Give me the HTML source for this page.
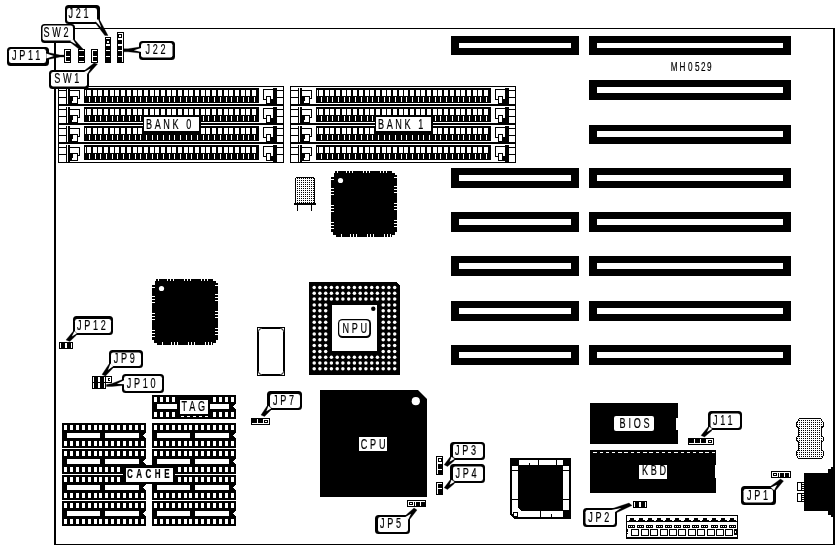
<!DOCTYPE html>
<html><head><meta charset="utf-8"><title>MH0529 motherboard</title>
<style>
html,body{margin:0;padding:0;background:#fff}
svg{display:block;will-change:transform;-webkit-font-smoothing:antialiased}
text{font-family:"Liberation Sans",sans-serif}
</style></head><body>
<svg width="840" height="550" viewBox="0 0 840 550" shape-rendering="crispEdges">
<rect x="0" y="0" width="840" height="550" fill="#fff"/>
<defs><pattern id="dots" x="1" y="0" width="2" height="2" patternUnits="userSpaceOnUse"><rect x="0" y="0" width="2" height="2" fill="#fff"/><rect x="0" y="0" width="1" height="1" fill="#000"/></pattern></defs>
<polygon points="48,52.5 60,55 64,55 64,57 60,57 48,59.5" fill="#000" stroke="#000" stroke-width="0.3" stroke-linejoin="round" shape-rendering="auto"/>
<rect x="7" y="47" width="42" height="19" rx="3.5" ry="3.5" fill="#000" shape-rendering="auto"/>
<rect x="9" y="49" width="37" height="14" rx="2.3" ry="2.3" fill="#fff" shape-rendering="auto"/>
<polygon points="46.32,53.62 46.32,58.38 53.88,56" fill="#fff" shape-rendering="auto"/>
<text transform="translate(12,60) scale(0.65,1)" font-size="14" letter-spacing="4.2" fill="#000" stroke="#000" stroke-width="0.2" font-weight="normal" shape-rendering="auto">JP11</text>
<rect x="54" y="28" width="2" height="517" fill="#000"/>
<rect x="54" y="28" width="781" height="1" fill="#000"/>
<rect x="833" y="28" width="2" height="517" fill="#000"/>
<rect x="54" y="544" width="781" height="1" fill="#000"/>
<rect x="589" y="36" width="202" height="19" fill="#000"/>
<rect x="597" y="43" width="186" height="5" fill="#fff"/>
<rect x="451" y="36" width="128" height="19" fill="#000"/>
<rect x="459" y="43" width="112" height="5" fill="#fff"/>
<rect x="589" y="80" width="202" height="20" fill="#000"/>
<rect x="597" y="87" width="186" height="6" fill="#fff"/>
<rect x="589" y="125" width="202" height="19" fill="#000"/>
<rect x="597" y="131" width="186" height="6" fill="#fff"/>
<rect x="589" y="168" width="202" height="20" fill="#000"/>
<rect x="597" y="175" width="186" height="6" fill="#fff"/>
<rect x="451" y="168" width="128" height="20" fill="#000"/>
<rect x="459" y="175" width="112" height="6" fill="#fff"/>
<rect x="589" y="212" width="202" height="20" fill="#000"/>
<rect x="597" y="219" width="186" height="6" fill="#fff"/>
<rect x="451" y="212" width="128" height="20" fill="#000"/>
<rect x="459" y="219" width="112" height="6" fill="#fff"/>
<rect x="589" y="256" width="202" height="20" fill="#000"/>
<rect x="597" y="263" width="186" height="6" fill="#fff"/>
<rect x="451" y="256" width="128" height="20" fill="#000"/>
<rect x="459" y="263" width="112" height="6" fill="#fff"/>
<rect x="589" y="301" width="202" height="20" fill="#000"/>
<rect x="597" y="308" width="186" height="6" fill="#fff"/>
<rect x="451" y="301" width="128" height="20" fill="#000"/>
<rect x="459" y="308" width="112" height="6" fill="#fff"/>
<rect x="589" y="345" width="202" height="20" fill="#000"/>
<rect x="597" y="352" width="186" height="6" fill="#fff"/>
<rect x="451" y="345" width="128" height="20" fill="#000"/>
<rect x="459" y="352" width="112" height="6" fill="#fff"/>
<rect x="58" y="86" width="226" height="1" fill="#000"/>
<rect x="58" y="162" width="226" height="1" fill="#000"/>
<rect x="58" y="86" width="1" height="77" fill="#000"/>
<rect x="283" y="86" width="1" height="77" fill="#000"/>
<rect x="59" y="90" width="7" height="1" fill="#000"/>
<rect x="59" y="97" width="7" height="1" fill="#000"/>
<rect x="66" y="88" width="1" height="17" fill="#000"/>
<rect x="68" y="88" width="2" height="17" fill="#000"/>
<rect x="70" y="90" width="10" height="1" fill="#000"/>
<rect x="79" y="90" width="1" height="9" fill="#000"/>
<rect x="77" y="98" width="3" height="1" fill="#000"/>
<rect x="72" y="96" width="6" height="1" fill="#000"/>
<rect x="77" y="96" width="1" height="8" fill="#000"/>
<rect x="70" y="96" width="3" height="5" fill="#000"/>
<rect x="70" y="100" width="2" height="4" fill="#000"/>
<rect x="70" y="103" width="8" height="1" fill="#000"/>
<rect x="84" y="88" width="175" height="15" fill="#000"/>
<rect x="87" y="90" width="4" height="6" fill="#fff"/>
<rect x="89" y="97" width="1" height="5" fill="#fff"/>
<rect x="93" y="90" width="4" height="6" fill="#fff"/>
<rect x="95" y="97" width="1" height="5" fill="#fff"/>
<rect x="98" y="90" width="4" height="6" fill="#fff"/>
<rect x="100" y="97" width="1" height="5" fill="#fff"/>
<rect x="104" y="90" width="4" height="6" fill="#fff"/>
<rect x="106" y="97" width="1" height="5" fill="#fff"/>
<rect x="110" y="90" width="4" height="6" fill="#fff"/>
<rect x="112" y="97" width="1" height="5" fill="#fff"/>
<rect x="115" y="90" width="4" height="6" fill="#fff"/>
<rect x="117" y="97" width="1" height="5" fill="#fff"/>
<rect x="121" y="90" width="4" height="6" fill="#fff"/>
<rect x="123" y="97" width="1" height="5" fill="#fff"/>
<rect x="127" y="90" width="4" height="6" fill="#fff"/>
<rect x="129" y="97" width="1" height="5" fill="#fff"/>
<rect x="133" y="90" width="4" height="6" fill="#fff"/>
<rect x="135" y="97" width="1" height="5" fill="#fff"/>
<rect x="138" y="90" width="4" height="6" fill="#fff"/>
<rect x="140" y="97" width="1" height="5" fill="#fff"/>
<rect x="144" y="90" width="4" height="6" fill="#fff"/>
<rect x="146" y="97" width="1" height="5" fill="#fff"/>
<rect x="150" y="90" width="4" height="6" fill="#fff"/>
<rect x="152" y="97" width="1" height="5" fill="#fff"/>
<rect x="155" y="90" width="4" height="6" fill="#fff"/>
<rect x="157" y="97" width="1" height="5" fill="#fff"/>
<rect x="161" y="90" width="4" height="6" fill="#fff"/>
<rect x="163" y="97" width="1" height="5" fill="#fff"/>
<rect x="167" y="90" width="4" height="6" fill="#fff"/>
<rect x="169" y="97" width="1" height="5" fill="#fff"/>
<rect x="172" y="90" width="4" height="6" fill="#fff"/>
<rect x="174" y="97" width="1" height="5" fill="#fff"/>
<rect x="178" y="90" width="4" height="6" fill="#fff"/>
<rect x="180" y="97" width="1" height="5" fill="#fff"/>
<rect x="184" y="90" width="4" height="6" fill="#fff"/>
<rect x="186" y="97" width="1" height="5" fill="#fff"/>
<rect x="189" y="90" width="4" height="6" fill="#fff"/>
<rect x="191" y="97" width="1" height="5" fill="#fff"/>
<rect x="195" y="90" width="4" height="6" fill="#fff"/>
<rect x="197" y="97" width="1" height="5" fill="#fff"/>
<rect x="201" y="90" width="4" height="6" fill="#fff"/>
<rect x="203" y="97" width="1" height="5" fill="#fff"/>
<rect x="206" y="90" width="4" height="6" fill="#fff"/>
<rect x="208" y="97" width="1" height="5" fill="#fff"/>
<rect x="212" y="90" width="4" height="6" fill="#fff"/>
<rect x="214" y="97" width="1" height="5" fill="#fff"/>
<rect x="218" y="90" width="4" height="6" fill="#fff"/>
<rect x="220" y="97" width="1" height="5" fill="#fff"/>
<rect x="224" y="90" width="4" height="6" fill="#fff"/>
<rect x="226" y="97" width="1" height="5" fill="#fff"/>
<rect x="229" y="90" width="4" height="6" fill="#fff"/>
<rect x="231" y="97" width="1" height="5" fill="#fff"/>
<rect x="235" y="90" width="4" height="6" fill="#fff"/>
<rect x="237" y="97" width="1" height="5" fill="#fff"/>
<rect x="241" y="90" width="4" height="6" fill="#fff"/>
<rect x="243" y="97" width="1" height="5" fill="#fff"/>
<rect x="246" y="90" width="4" height="6" fill="#fff"/>
<rect x="248" y="97" width="1" height="5" fill="#fff"/>
<rect x="252" y="90" width="4" height="6" fill="#fff"/>
<rect x="254" y="97" width="1" height="5" fill="#fff"/>
<rect x="85" y="90" width="1" height="6" fill="#fff"/>
<rect x="263" y="89" width="10" height="1" fill="#000"/>
<rect x="263" y="89" width="1" height="11" fill="#000"/>
<rect x="263" y="99" width="4" height="1" fill="#000"/>
<rect x="266" y="96" width="1" height="8" fill="#000"/>
<rect x="266" y="96" width="5" height="1" fill="#000"/>
<rect x="270" y="96" width="1" height="4" fill="#000"/>
<rect x="270" y="99" width="3" height="5" fill="#000"/>
<rect x="266" y="103" width="7" height="1" fill="#000"/>
<rect x="273" y="88" width="4" height="17" fill="#000"/>
<rect x="277" y="90" width="6" height="1" fill="#000"/>
<rect x="277" y="97" width="6" height="1" fill="#000"/>
<rect x="58" y="104" width="226" height="2" fill="#000"/>
<rect x="59" y="109" width="7" height="1" fill="#000"/>
<rect x="59" y="116" width="7" height="1" fill="#000"/>
<rect x="66" y="107" width="1" height="17" fill="#000"/>
<rect x="68" y="107" width="2" height="17" fill="#000"/>
<rect x="70" y="109" width="10" height="1" fill="#000"/>
<rect x="79" y="109" width="1" height="9" fill="#000"/>
<rect x="77" y="117" width="3" height="1" fill="#000"/>
<rect x="72" y="115" width="6" height="1" fill="#000"/>
<rect x="77" y="115" width="1" height="8" fill="#000"/>
<rect x="70" y="115" width="3" height="5" fill="#000"/>
<rect x="70" y="119" width="2" height="4" fill="#000"/>
<rect x="70" y="122" width="8" height="1" fill="#000"/>
<rect x="84" y="107" width="175" height="15" fill="#000"/>
<rect x="87" y="109" width="4" height="6" fill="#fff"/>
<rect x="89" y="116" width="1" height="5" fill="#fff"/>
<rect x="93" y="109" width="4" height="6" fill="#fff"/>
<rect x="95" y="116" width="1" height="5" fill="#fff"/>
<rect x="98" y="109" width="4" height="6" fill="#fff"/>
<rect x="100" y="116" width="1" height="5" fill="#fff"/>
<rect x="104" y="109" width="4" height="6" fill="#fff"/>
<rect x="106" y="116" width="1" height="5" fill="#fff"/>
<rect x="110" y="109" width="4" height="6" fill="#fff"/>
<rect x="112" y="116" width="1" height="5" fill="#fff"/>
<rect x="115" y="109" width="4" height="6" fill="#fff"/>
<rect x="117" y="116" width="1" height="5" fill="#fff"/>
<rect x="121" y="109" width="4" height="6" fill="#fff"/>
<rect x="123" y="116" width="1" height="5" fill="#fff"/>
<rect x="127" y="109" width="4" height="6" fill="#fff"/>
<rect x="129" y="116" width="1" height="5" fill="#fff"/>
<rect x="133" y="109" width="4" height="6" fill="#fff"/>
<rect x="135" y="116" width="1" height="5" fill="#fff"/>
<rect x="138" y="109" width="4" height="6" fill="#fff"/>
<rect x="140" y="116" width="1" height="5" fill="#fff"/>
<rect x="144" y="109" width="4" height="6" fill="#fff"/>
<rect x="146" y="116" width="1" height="5" fill="#fff"/>
<rect x="150" y="109" width="4" height="6" fill="#fff"/>
<rect x="152" y="116" width="1" height="5" fill="#fff"/>
<rect x="155" y="109" width="4" height="6" fill="#fff"/>
<rect x="157" y="116" width="1" height="5" fill="#fff"/>
<rect x="161" y="109" width="4" height="6" fill="#fff"/>
<rect x="163" y="116" width="1" height="5" fill="#fff"/>
<rect x="167" y="109" width="4" height="6" fill="#fff"/>
<rect x="169" y="116" width="1" height="5" fill="#fff"/>
<rect x="172" y="109" width="4" height="6" fill="#fff"/>
<rect x="174" y="116" width="1" height="5" fill="#fff"/>
<rect x="178" y="109" width="4" height="6" fill="#fff"/>
<rect x="180" y="116" width="1" height="5" fill="#fff"/>
<rect x="184" y="109" width="4" height="6" fill="#fff"/>
<rect x="186" y="116" width="1" height="5" fill="#fff"/>
<rect x="189" y="109" width="4" height="6" fill="#fff"/>
<rect x="191" y="116" width="1" height="5" fill="#fff"/>
<rect x="195" y="109" width="4" height="6" fill="#fff"/>
<rect x="197" y="116" width="1" height="5" fill="#fff"/>
<rect x="201" y="109" width="4" height="6" fill="#fff"/>
<rect x="203" y="116" width="1" height="5" fill="#fff"/>
<rect x="206" y="109" width="4" height="6" fill="#fff"/>
<rect x="208" y="116" width="1" height="5" fill="#fff"/>
<rect x="212" y="109" width="4" height="6" fill="#fff"/>
<rect x="214" y="116" width="1" height="5" fill="#fff"/>
<rect x="218" y="109" width="4" height="6" fill="#fff"/>
<rect x="220" y="116" width="1" height="5" fill="#fff"/>
<rect x="224" y="109" width="4" height="6" fill="#fff"/>
<rect x="226" y="116" width="1" height="5" fill="#fff"/>
<rect x="229" y="109" width="4" height="6" fill="#fff"/>
<rect x="231" y="116" width="1" height="5" fill="#fff"/>
<rect x="235" y="109" width="4" height="6" fill="#fff"/>
<rect x="237" y="116" width="1" height="5" fill="#fff"/>
<rect x="241" y="109" width="4" height="6" fill="#fff"/>
<rect x="243" y="116" width="1" height="5" fill="#fff"/>
<rect x="246" y="109" width="4" height="6" fill="#fff"/>
<rect x="248" y="116" width="1" height="5" fill="#fff"/>
<rect x="252" y="109" width="4" height="6" fill="#fff"/>
<rect x="254" y="116" width="1" height="5" fill="#fff"/>
<rect x="85" y="109" width="1" height="6" fill="#fff"/>
<rect x="263" y="108" width="10" height="1" fill="#000"/>
<rect x="263" y="108" width="1" height="11" fill="#000"/>
<rect x="263" y="118" width="4" height="1" fill="#000"/>
<rect x="266" y="115" width="1" height="8" fill="#000"/>
<rect x="266" y="115" width="5" height="1" fill="#000"/>
<rect x="270" y="115" width="1" height="4" fill="#000"/>
<rect x="270" y="118" width="3" height="5" fill="#000"/>
<rect x="266" y="122" width="7" height="1" fill="#000"/>
<rect x="273" y="107" width="4" height="17" fill="#000"/>
<rect x="277" y="109" width="6" height="1" fill="#000"/>
<rect x="277" y="116" width="6" height="1" fill="#000"/>
<rect x="58" y="123" width="226" height="2" fill="#000"/>
<rect x="59" y="128" width="7" height="1" fill="#000"/>
<rect x="59" y="135" width="7" height="1" fill="#000"/>
<rect x="66" y="126" width="1" height="17" fill="#000"/>
<rect x="68" y="126" width="2" height="17" fill="#000"/>
<rect x="70" y="128" width="10" height="1" fill="#000"/>
<rect x="79" y="128" width="1" height="9" fill="#000"/>
<rect x="77" y="136" width="3" height="1" fill="#000"/>
<rect x="72" y="134" width="6" height="1" fill="#000"/>
<rect x="77" y="134" width="1" height="8" fill="#000"/>
<rect x="70" y="134" width="3" height="5" fill="#000"/>
<rect x="70" y="138" width="2" height="4" fill="#000"/>
<rect x="70" y="141" width="8" height="1" fill="#000"/>
<rect x="84" y="126" width="175" height="15" fill="#000"/>
<rect x="87" y="128" width="4" height="6" fill="#fff"/>
<rect x="89" y="135" width="1" height="5" fill="#fff"/>
<rect x="93" y="128" width="4" height="6" fill="#fff"/>
<rect x="95" y="135" width="1" height="5" fill="#fff"/>
<rect x="98" y="128" width="4" height="6" fill="#fff"/>
<rect x="100" y="135" width="1" height="5" fill="#fff"/>
<rect x="104" y="128" width="4" height="6" fill="#fff"/>
<rect x="106" y="135" width="1" height="5" fill="#fff"/>
<rect x="110" y="128" width="4" height="6" fill="#fff"/>
<rect x="112" y="135" width="1" height="5" fill="#fff"/>
<rect x="115" y="128" width="4" height="6" fill="#fff"/>
<rect x="117" y="135" width="1" height="5" fill="#fff"/>
<rect x="121" y="128" width="4" height="6" fill="#fff"/>
<rect x="123" y="135" width="1" height="5" fill="#fff"/>
<rect x="127" y="128" width="4" height="6" fill="#fff"/>
<rect x="129" y="135" width="1" height="5" fill="#fff"/>
<rect x="133" y="128" width="4" height="6" fill="#fff"/>
<rect x="135" y="135" width="1" height="5" fill="#fff"/>
<rect x="138" y="128" width="4" height="6" fill="#fff"/>
<rect x="140" y="135" width="1" height="5" fill="#fff"/>
<rect x="144" y="128" width="4" height="6" fill="#fff"/>
<rect x="146" y="135" width="1" height="5" fill="#fff"/>
<rect x="150" y="128" width="4" height="6" fill="#fff"/>
<rect x="152" y="135" width="1" height="5" fill="#fff"/>
<rect x="155" y="128" width="4" height="6" fill="#fff"/>
<rect x="157" y="135" width="1" height="5" fill="#fff"/>
<rect x="161" y="128" width="4" height="6" fill="#fff"/>
<rect x="163" y="135" width="1" height="5" fill="#fff"/>
<rect x="167" y="128" width="4" height="6" fill="#fff"/>
<rect x="169" y="135" width="1" height="5" fill="#fff"/>
<rect x="172" y="128" width="4" height="6" fill="#fff"/>
<rect x="174" y="135" width="1" height="5" fill="#fff"/>
<rect x="178" y="128" width="4" height="6" fill="#fff"/>
<rect x="180" y="135" width="1" height="5" fill="#fff"/>
<rect x="184" y="128" width="4" height="6" fill="#fff"/>
<rect x="186" y="135" width="1" height="5" fill="#fff"/>
<rect x="189" y="128" width="4" height="6" fill="#fff"/>
<rect x="191" y="135" width="1" height="5" fill="#fff"/>
<rect x="195" y="128" width="4" height="6" fill="#fff"/>
<rect x="197" y="135" width="1" height="5" fill="#fff"/>
<rect x="201" y="128" width="4" height="6" fill="#fff"/>
<rect x="203" y="135" width="1" height="5" fill="#fff"/>
<rect x="206" y="128" width="4" height="6" fill="#fff"/>
<rect x="208" y="135" width="1" height="5" fill="#fff"/>
<rect x="212" y="128" width="4" height="6" fill="#fff"/>
<rect x="214" y="135" width="1" height="5" fill="#fff"/>
<rect x="218" y="128" width="4" height="6" fill="#fff"/>
<rect x="220" y="135" width="1" height="5" fill="#fff"/>
<rect x="224" y="128" width="4" height="6" fill="#fff"/>
<rect x="226" y="135" width="1" height="5" fill="#fff"/>
<rect x="229" y="128" width="4" height="6" fill="#fff"/>
<rect x="231" y="135" width="1" height="5" fill="#fff"/>
<rect x="235" y="128" width="4" height="6" fill="#fff"/>
<rect x="237" y="135" width="1" height="5" fill="#fff"/>
<rect x="241" y="128" width="4" height="6" fill="#fff"/>
<rect x="243" y="135" width="1" height="5" fill="#fff"/>
<rect x="246" y="128" width="4" height="6" fill="#fff"/>
<rect x="248" y="135" width="1" height="5" fill="#fff"/>
<rect x="252" y="128" width="4" height="6" fill="#fff"/>
<rect x="254" y="135" width="1" height="5" fill="#fff"/>
<rect x="85" y="128" width="1" height="6" fill="#fff"/>
<rect x="263" y="127" width="10" height="1" fill="#000"/>
<rect x="263" y="127" width="1" height="11" fill="#000"/>
<rect x="263" y="137" width="4" height="1" fill="#000"/>
<rect x="266" y="134" width="1" height="8" fill="#000"/>
<rect x="266" y="134" width="5" height="1" fill="#000"/>
<rect x="270" y="134" width="1" height="4" fill="#000"/>
<rect x="270" y="137" width="3" height="5" fill="#000"/>
<rect x="266" y="141" width="7" height="1" fill="#000"/>
<rect x="273" y="126" width="4" height="17" fill="#000"/>
<rect x="277" y="128" width="6" height="1" fill="#000"/>
<rect x="277" y="135" width="6" height="1" fill="#000"/>
<rect x="58" y="142" width="226" height="2" fill="#000"/>
<rect x="59" y="147" width="7" height="1" fill="#000"/>
<rect x="59" y="154" width="7" height="1" fill="#000"/>
<rect x="66" y="145" width="1" height="17" fill="#000"/>
<rect x="68" y="145" width="2" height="17" fill="#000"/>
<rect x="70" y="147" width="10" height="1" fill="#000"/>
<rect x="79" y="147" width="1" height="9" fill="#000"/>
<rect x="77" y="155" width="3" height="1" fill="#000"/>
<rect x="72" y="153" width="6" height="1" fill="#000"/>
<rect x="77" y="153" width="1" height="8" fill="#000"/>
<rect x="70" y="153" width="3" height="5" fill="#000"/>
<rect x="70" y="157" width="2" height="4" fill="#000"/>
<rect x="70" y="160" width="8" height="1" fill="#000"/>
<rect x="84" y="145" width="175" height="15" fill="#000"/>
<rect x="87" y="147" width="4" height="6" fill="#fff"/>
<rect x="89" y="154" width="1" height="5" fill="#fff"/>
<rect x="93" y="147" width="4" height="6" fill="#fff"/>
<rect x="95" y="154" width="1" height="5" fill="#fff"/>
<rect x="98" y="147" width="4" height="6" fill="#fff"/>
<rect x="100" y="154" width="1" height="5" fill="#fff"/>
<rect x="104" y="147" width="4" height="6" fill="#fff"/>
<rect x="106" y="154" width="1" height="5" fill="#fff"/>
<rect x="110" y="147" width="4" height="6" fill="#fff"/>
<rect x="112" y="154" width="1" height="5" fill="#fff"/>
<rect x="115" y="147" width="4" height="6" fill="#fff"/>
<rect x="117" y="154" width="1" height="5" fill="#fff"/>
<rect x="121" y="147" width="4" height="6" fill="#fff"/>
<rect x="123" y="154" width="1" height="5" fill="#fff"/>
<rect x="127" y="147" width="4" height="6" fill="#fff"/>
<rect x="129" y="154" width="1" height="5" fill="#fff"/>
<rect x="133" y="147" width="4" height="6" fill="#fff"/>
<rect x="135" y="154" width="1" height="5" fill="#fff"/>
<rect x="138" y="147" width="4" height="6" fill="#fff"/>
<rect x="140" y="154" width="1" height="5" fill="#fff"/>
<rect x="144" y="147" width="4" height="6" fill="#fff"/>
<rect x="146" y="154" width="1" height="5" fill="#fff"/>
<rect x="150" y="147" width="4" height="6" fill="#fff"/>
<rect x="152" y="154" width="1" height="5" fill="#fff"/>
<rect x="155" y="147" width="4" height="6" fill="#fff"/>
<rect x="157" y="154" width="1" height="5" fill="#fff"/>
<rect x="161" y="147" width="4" height="6" fill="#fff"/>
<rect x="163" y="154" width="1" height="5" fill="#fff"/>
<rect x="167" y="147" width="4" height="6" fill="#fff"/>
<rect x="169" y="154" width="1" height="5" fill="#fff"/>
<rect x="172" y="147" width="4" height="6" fill="#fff"/>
<rect x="174" y="154" width="1" height="5" fill="#fff"/>
<rect x="178" y="147" width="4" height="6" fill="#fff"/>
<rect x="180" y="154" width="1" height="5" fill="#fff"/>
<rect x="184" y="147" width="4" height="6" fill="#fff"/>
<rect x="186" y="154" width="1" height="5" fill="#fff"/>
<rect x="189" y="147" width="4" height="6" fill="#fff"/>
<rect x="191" y="154" width="1" height="5" fill="#fff"/>
<rect x="195" y="147" width="4" height="6" fill="#fff"/>
<rect x="197" y="154" width="1" height="5" fill="#fff"/>
<rect x="201" y="147" width="4" height="6" fill="#fff"/>
<rect x="203" y="154" width="1" height="5" fill="#fff"/>
<rect x="206" y="147" width="4" height="6" fill="#fff"/>
<rect x="208" y="154" width="1" height="5" fill="#fff"/>
<rect x="212" y="147" width="4" height="6" fill="#fff"/>
<rect x="214" y="154" width="1" height="5" fill="#fff"/>
<rect x="218" y="147" width="4" height="6" fill="#fff"/>
<rect x="220" y="154" width="1" height="5" fill="#fff"/>
<rect x="224" y="147" width="4" height="6" fill="#fff"/>
<rect x="226" y="154" width="1" height="5" fill="#fff"/>
<rect x="229" y="147" width="4" height="6" fill="#fff"/>
<rect x="231" y="154" width="1" height="5" fill="#fff"/>
<rect x="235" y="147" width="4" height="6" fill="#fff"/>
<rect x="237" y="154" width="1" height="5" fill="#fff"/>
<rect x="241" y="147" width="4" height="6" fill="#fff"/>
<rect x="243" y="154" width="1" height="5" fill="#fff"/>
<rect x="246" y="147" width="4" height="6" fill="#fff"/>
<rect x="248" y="154" width="1" height="5" fill="#fff"/>
<rect x="252" y="147" width="4" height="6" fill="#fff"/>
<rect x="254" y="154" width="1" height="5" fill="#fff"/>
<rect x="85" y="147" width="1" height="6" fill="#fff"/>
<rect x="263" y="146" width="10" height="1" fill="#000"/>
<rect x="263" y="146" width="1" height="11" fill="#000"/>
<rect x="263" y="156" width="4" height="1" fill="#000"/>
<rect x="266" y="153" width="1" height="8" fill="#000"/>
<rect x="266" y="153" width="5" height="1" fill="#000"/>
<rect x="270" y="153" width="1" height="4" fill="#000"/>
<rect x="270" y="156" width="3" height="5" fill="#000"/>
<rect x="266" y="160" width="7" height="1" fill="#000"/>
<rect x="273" y="145" width="4" height="17" fill="#000"/>
<rect x="277" y="147" width="6" height="1" fill="#000"/>
<rect x="277" y="154" width="6" height="1" fill="#000"/>
<rect x="290" y="86" width="226" height="1" fill="#000"/>
<rect x="290" y="162" width="226" height="1" fill="#000"/>
<rect x="290" y="86" width="1" height="77" fill="#000"/>
<rect x="515" y="86" width="1" height="77" fill="#000"/>
<rect x="291" y="90" width="7" height="1" fill="#000"/>
<rect x="291" y="97" width="7" height="1" fill="#000"/>
<rect x="298" y="88" width="1" height="17" fill="#000"/>
<rect x="300" y="88" width="2" height="17" fill="#000"/>
<rect x="302" y="90" width="10" height="1" fill="#000"/>
<rect x="311" y="90" width="1" height="9" fill="#000"/>
<rect x="309" y="98" width="3" height="1" fill="#000"/>
<rect x="304" y="96" width="6" height="1" fill="#000"/>
<rect x="309" y="96" width="1" height="8" fill="#000"/>
<rect x="302" y="96" width="3" height="5" fill="#000"/>
<rect x="302" y="100" width="2" height="4" fill="#000"/>
<rect x="302" y="103" width="8" height="1" fill="#000"/>
<rect x="316" y="88" width="175" height="15" fill="#000"/>
<rect x="319" y="90" width="4" height="6" fill="#fff"/>
<rect x="321" y="97" width="1" height="5" fill="#fff"/>
<rect x="325" y="90" width="4" height="6" fill="#fff"/>
<rect x="327" y="97" width="1" height="5" fill="#fff"/>
<rect x="330" y="90" width="4" height="6" fill="#fff"/>
<rect x="332" y="97" width="1" height="5" fill="#fff"/>
<rect x="336" y="90" width="4" height="6" fill="#fff"/>
<rect x="338" y="97" width="1" height="5" fill="#fff"/>
<rect x="342" y="90" width="4" height="6" fill="#fff"/>
<rect x="344" y="97" width="1" height="5" fill="#fff"/>
<rect x="347" y="90" width="4" height="6" fill="#fff"/>
<rect x="349" y="97" width="1" height="5" fill="#fff"/>
<rect x="353" y="90" width="4" height="6" fill="#fff"/>
<rect x="355" y="97" width="1" height="5" fill="#fff"/>
<rect x="359" y="90" width="4" height="6" fill="#fff"/>
<rect x="361" y="97" width="1" height="5" fill="#fff"/>
<rect x="365" y="90" width="4" height="6" fill="#fff"/>
<rect x="367" y="97" width="1" height="5" fill="#fff"/>
<rect x="370" y="90" width="4" height="6" fill="#fff"/>
<rect x="372" y="97" width="1" height="5" fill="#fff"/>
<rect x="376" y="90" width="4" height="6" fill="#fff"/>
<rect x="378" y="97" width="1" height="5" fill="#fff"/>
<rect x="382" y="90" width="4" height="6" fill="#fff"/>
<rect x="384" y="97" width="1" height="5" fill="#fff"/>
<rect x="387" y="90" width="4" height="6" fill="#fff"/>
<rect x="389" y="97" width="1" height="5" fill="#fff"/>
<rect x="393" y="90" width="4" height="6" fill="#fff"/>
<rect x="395" y="97" width="1" height="5" fill="#fff"/>
<rect x="399" y="90" width="4" height="6" fill="#fff"/>
<rect x="401" y="97" width="1" height="5" fill="#fff"/>
<rect x="404" y="90" width="4" height="6" fill="#fff"/>
<rect x="406" y="97" width="1" height="5" fill="#fff"/>
<rect x="410" y="90" width="4" height="6" fill="#fff"/>
<rect x="412" y="97" width="1" height="5" fill="#fff"/>
<rect x="416" y="90" width="4" height="6" fill="#fff"/>
<rect x="418" y="97" width="1" height="5" fill="#fff"/>
<rect x="421" y="90" width="4" height="6" fill="#fff"/>
<rect x="423" y="97" width="1" height="5" fill="#fff"/>
<rect x="427" y="90" width="4" height="6" fill="#fff"/>
<rect x="429" y="97" width="1" height="5" fill="#fff"/>
<rect x="433" y="90" width="4" height="6" fill="#fff"/>
<rect x="435" y="97" width="1" height="5" fill="#fff"/>
<rect x="438" y="90" width="4" height="6" fill="#fff"/>
<rect x="440" y="97" width="1" height="5" fill="#fff"/>
<rect x="444" y="90" width="4" height="6" fill="#fff"/>
<rect x="446" y="97" width="1" height="5" fill="#fff"/>
<rect x="450" y="90" width="4" height="6" fill="#fff"/>
<rect x="452" y="97" width="1" height="5" fill="#fff"/>
<rect x="456" y="90" width="4" height="6" fill="#fff"/>
<rect x="458" y="97" width="1" height="5" fill="#fff"/>
<rect x="461" y="90" width="4" height="6" fill="#fff"/>
<rect x="463" y="97" width="1" height="5" fill="#fff"/>
<rect x="467" y="90" width="4" height="6" fill="#fff"/>
<rect x="469" y="97" width="1" height="5" fill="#fff"/>
<rect x="473" y="90" width="4" height="6" fill="#fff"/>
<rect x="475" y="97" width="1" height="5" fill="#fff"/>
<rect x="478" y="90" width="4" height="6" fill="#fff"/>
<rect x="480" y="97" width="1" height="5" fill="#fff"/>
<rect x="484" y="90" width="4" height="6" fill="#fff"/>
<rect x="486" y="97" width="1" height="5" fill="#fff"/>
<rect x="317" y="90" width="1" height="6" fill="#fff"/>
<rect x="495" y="89" width="10" height="1" fill="#000"/>
<rect x="495" y="89" width="1" height="11" fill="#000"/>
<rect x="495" y="99" width="4" height="1" fill="#000"/>
<rect x="498" y="96" width="1" height="8" fill="#000"/>
<rect x="498" y="96" width="5" height="1" fill="#000"/>
<rect x="502" y="96" width="1" height="4" fill="#000"/>
<rect x="502" y="99" width="3" height="5" fill="#000"/>
<rect x="498" y="103" width="7" height="1" fill="#000"/>
<rect x="505" y="88" width="4" height="17" fill="#000"/>
<rect x="509" y="90" width="6" height="1" fill="#000"/>
<rect x="509" y="97" width="6" height="1" fill="#000"/>
<rect x="290" y="104" width="226" height="2" fill="#000"/>
<rect x="291" y="109" width="7" height="1" fill="#000"/>
<rect x="291" y="116" width="7" height="1" fill="#000"/>
<rect x="298" y="107" width="1" height="17" fill="#000"/>
<rect x="300" y="107" width="2" height="17" fill="#000"/>
<rect x="302" y="109" width="10" height="1" fill="#000"/>
<rect x="311" y="109" width="1" height="9" fill="#000"/>
<rect x="309" y="117" width="3" height="1" fill="#000"/>
<rect x="304" y="115" width="6" height="1" fill="#000"/>
<rect x="309" y="115" width="1" height="8" fill="#000"/>
<rect x="302" y="115" width="3" height="5" fill="#000"/>
<rect x="302" y="119" width="2" height="4" fill="#000"/>
<rect x="302" y="122" width="8" height="1" fill="#000"/>
<rect x="316" y="107" width="175" height="15" fill="#000"/>
<rect x="319" y="109" width="4" height="6" fill="#fff"/>
<rect x="321" y="116" width="1" height="5" fill="#fff"/>
<rect x="325" y="109" width="4" height="6" fill="#fff"/>
<rect x="327" y="116" width="1" height="5" fill="#fff"/>
<rect x="330" y="109" width="4" height="6" fill="#fff"/>
<rect x="332" y="116" width="1" height="5" fill="#fff"/>
<rect x="336" y="109" width="4" height="6" fill="#fff"/>
<rect x="338" y="116" width="1" height="5" fill="#fff"/>
<rect x="342" y="109" width="4" height="6" fill="#fff"/>
<rect x="344" y="116" width="1" height="5" fill="#fff"/>
<rect x="347" y="109" width="4" height="6" fill="#fff"/>
<rect x="349" y="116" width="1" height="5" fill="#fff"/>
<rect x="353" y="109" width="4" height="6" fill="#fff"/>
<rect x="355" y="116" width="1" height="5" fill="#fff"/>
<rect x="359" y="109" width="4" height="6" fill="#fff"/>
<rect x="361" y="116" width="1" height="5" fill="#fff"/>
<rect x="365" y="109" width="4" height="6" fill="#fff"/>
<rect x="367" y="116" width="1" height="5" fill="#fff"/>
<rect x="370" y="109" width="4" height="6" fill="#fff"/>
<rect x="372" y="116" width="1" height="5" fill="#fff"/>
<rect x="376" y="109" width="4" height="6" fill="#fff"/>
<rect x="378" y="116" width="1" height="5" fill="#fff"/>
<rect x="382" y="109" width="4" height="6" fill="#fff"/>
<rect x="384" y="116" width="1" height="5" fill="#fff"/>
<rect x="387" y="109" width="4" height="6" fill="#fff"/>
<rect x="389" y="116" width="1" height="5" fill="#fff"/>
<rect x="393" y="109" width="4" height="6" fill="#fff"/>
<rect x="395" y="116" width="1" height="5" fill="#fff"/>
<rect x="399" y="109" width="4" height="6" fill="#fff"/>
<rect x="401" y="116" width="1" height="5" fill="#fff"/>
<rect x="404" y="109" width="4" height="6" fill="#fff"/>
<rect x="406" y="116" width="1" height="5" fill="#fff"/>
<rect x="410" y="109" width="4" height="6" fill="#fff"/>
<rect x="412" y="116" width="1" height="5" fill="#fff"/>
<rect x="416" y="109" width="4" height="6" fill="#fff"/>
<rect x="418" y="116" width="1" height="5" fill="#fff"/>
<rect x="421" y="109" width="4" height="6" fill="#fff"/>
<rect x="423" y="116" width="1" height="5" fill="#fff"/>
<rect x="427" y="109" width="4" height="6" fill="#fff"/>
<rect x="429" y="116" width="1" height="5" fill="#fff"/>
<rect x="433" y="109" width="4" height="6" fill="#fff"/>
<rect x="435" y="116" width="1" height="5" fill="#fff"/>
<rect x="438" y="109" width="4" height="6" fill="#fff"/>
<rect x="440" y="116" width="1" height="5" fill="#fff"/>
<rect x="444" y="109" width="4" height="6" fill="#fff"/>
<rect x="446" y="116" width="1" height="5" fill="#fff"/>
<rect x="450" y="109" width="4" height="6" fill="#fff"/>
<rect x="452" y="116" width="1" height="5" fill="#fff"/>
<rect x="456" y="109" width="4" height="6" fill="#fff"/>
<rect x="458" y="116" width="1" height="5" fill="#fff"/>
<rect x="461" y="109" width="4" height="6" fill="#fff"/>
<rect x="463" y="116" width="1" height="5" fill="#fff"/>
<rect x="467" y="109" width="4" height="6" fill="#fff"/>
<rect x="469" y="116" width="1" height="5" fill="#fff"/>
<rect x="473" y="109" width="4" height="6" fill="#fff"/>
<rect x="475" y="116" width="1" height="5" fill="#fff"/>
<rect x="478" y="109" width="4" height="6" fill="#fff"/>
<rect x="480" y="116" width="1" height="5" fill="#fff"/>
<rect x="484" y="109" width="4" height="6" fill="#fff"/>
<rect x="486" y="116" width="1" height="5" fill="#fff"/>
<rect x="317" y="109" width="1" height="6" fill="#fff"/>
<rect x="495" y="108" width="10" height="1" fill="#000"/>
<rect x="495" y="108" width="1" height="11" fill="#000"/>
<rect x="495" y="118" width="4" height="1" fill="#000"/>
<rect x="498" y="115" width="1" height="8" fill="#000"/>
<rect x="498" y="115" width="5" height="1" fill="#000"/>
<rect x="502" y="115" width="1" height="4" fill="#000"/>
<rect x="502" y="118" width="3" height="5" fill="#000"/>
<rect x="498" y="122" width="7" height="1" fill="#000"/>
<rect x="505" y="107" width="4" height="17" fill="#000"/>
<rect x="509" y="109" width="6" height="1" fill="#000"/>
<rect x="509" y="116" width="6" height="1" fill="#000"/>
<rect x="290" y="123" width="226" height="2" fill="#000"/>
<rect x="291" y="128" width="7" height="1" fill="#000"/>
<rect x="291" y="135" width="7" height="1" fill="#000"/>
<rect x="298" y="126" width="1" height="17" fill="#000"/>
<rect x="300" y="126" width="2" height="17" fill="#000"/>
<rect x="302" y="128" width="10" height="1" fill="#000"/>
<rect x="311" y="128" width="1" height="9" fill="#000"/>
<rect x="309" y="136" width="3" height="1" fill="#000"/>
<rect x="304" y="134" width="6" height="1" fill="#000"/>
<rect x="309" y="134" width="1" height="8" fill="#000"/>
<rect x="302" y="134" width="3" height="5" fill="#000"/>
<rect x="302" y="138" width="2" height="4" fill="#000"/>
<rect x="302" y="141" width="8" height="1" fill="#000"/>
<rect x="316" y="126" width="175" height="15" fill="#000"/>
<rect x="319" y="128" width="4" height="6" fill="#fff"/>
<rect x="321" y="135" width="1" height="5" fill="#fff"/>
<rect x="325" y="128" width="4" height="6" fill="#fff"/>
<rect x="327" y="135" width="1" height="5" fill="#fff"/>
<rect x="330" y="128" width="4" height="6" fill="#fff"/>
<rect x="332" y="135" width="1" height="5" fill="#fff"/>
<rect x="336" y="128" width="4" height="6" fill="#fff"/>
<rect x="338" y="135" width="1" height="5" fill="#fff"/>
<rect x="342" y="128" width="4" height="6" fill="#fff"/>
<rect x="344" y="135" width="1" height="5" fill="#fff"/>
<rect x="347" y="128" width="4" height="6" fill="#fff"/>
<rect x="349" y="135" width="1" height="5" fill="#fff"/>
<rect x="353" y="128" width="4" height="6" fill="#fff"/>
<rect x="355" y="135" width="1" height="5" fill="#fff"/>
<rect x="359" y="128" width="4" height="6" fill="#fff"/>
<rect x="361" y="135" width="1" height="5" fill="#fff"/>
<rect x="365" y="128" width="4" height="6" fill="#fff"/>
<rect x="367" y="135" width="1" height="5" fill="#fff"/>
<rect x="370" y="128" width="4" height="6" fill="#fff"/>
<rect x="372" y="135" width="1" height="5" fill="#fff"/>
<rect x="376" y="128" width="4" height="6" fill="#fff"/>
<rect x="378" y="135" width="1" height="5" fill="#fff"/>
<rect x="382" y="128" width="4" height="6" fill="#fff"/>
<rect x="384" y="135" width="1" height="5" fill="#fff"/>
<rect x="387" y="128" width="4" height="6" fill="#fff"/>
<rect x="389" y="135" width="1" height="5" fill="#fff"/>
<rect x="393" y="128" width="4" height="6" fill="#fff"/>
<rect x="395" y="135" width="1" height="5" fill="#fff"/>
<rect x="399" y="128" width="4" height="6" fill="#fff"/>
<rect x="401" y="135" width="1" height="5" fill="#fff"/>
<rect x="404" y="128" width="4" height="6" fill="#fff"/>
<rect x="406" y="135" width="1" height="5" fill="#fff"/>
<rect x="410" y="128" width="4" height="6" fill="#fff"/>
<rect x="412" y="135" width="1" height="5" fill="#fff"/>
<rect x="416" y="128" width="4" height="6" fill="#fff"/>
<rect x="418" y="135" width="1" height="5" fill="#fff"/>
<rect x="421" y="128" width="4" height="6" fill="#fff"/>
<rect x="423" y="135" width="1" height="5" fill="#fff"/>
<rect x="427" y="128" width="4" height="6" fill="#fff"/>
<rect x="429" y="135" width="1" height="5" fill="#fff"/>
<rect x="433" y="128" width="4" height="6" fill="#fff"/>
<rect x="435" y="135" width="1" height="5" fill="#fff"/>
<rect x="438" y="128" width="4" height="6" fill="#fff"/>
<rect x="440" y="135" width="1" height="5" fill="#fff"/>
<rect x="444" y="128" width="4" height="6" fill="#fff"/>
<rect x="446" y="135" width="1" height="5" fill="#fff"/>
<rect x="450" y="128" width="4" height="6" fill="#fff"/>
<rect x="452" y="135" width="1" height="5" fill="#fff"/>
<rect x="456" y="128" width="4" height="6" fill="#fff"/>
<rect x="458" y="135" width="1" height="5" fill="#fff"/>
<rect x="461" y="128" width="4" height="6" fill="#fff"/>
<rect x="463" y="135" width="1" height="5" fill="#fff"/>
<rect x="467" y="128" width="4" height="6" fill="#fff"/>
<rect x="469" y="135" width="1" height="5" fill="#fff"/>
<rect x="473" y="128" width="4" height="6" fill="#fff"/>
<rect x="475" y="135" width="1" height="5" fill="#fff"/>
<rect x="478" y="128" width="4" height="6" fill="#fff"/>
<rect x="480" y="135" width="1" height="5" fill="#fff"/>
<rect x="484" y="128" width="4" height="6" fill="#fff"/>
<rect x="486" y="135" width="1" height="5" fill="#fff"/>
<rect x="317" y="128" width="1" height="6" fill="#fff"/>
<rect x="495" y="127" width="10" height="1" fill="#000"/>
<rect x="495" y="127" width="1" height="11" fill="#000"/>
<rect x="495" y="137" width="4" height="1" fill="#000"/>
<rect x="498" y="134" width="1" height="8" fill="#000"/>
<rect x="498" y="134" width="5" height="1" fill="#000"/>
<rect x="502" y="134" width="1" height="4" fill="#000"/>
<rect x="502" y="137" width="3" height="5" fill="#000"/>
<rect x="498" y="141" width="7" height="1" fill="#000"/>
<rect x="505" y="126" width="4" height="17" fill="#000"/>
<rect x="509" y="128" width="6" height="1" fill="#000"/>
<rect x="509" y="135" width="6" height="1" fill="#000"/>
<rect x="290" y="142" width="226" height="2" fill="#000"/>
<rect x="291" y="147" width="7" height="1" fill="#000"/>
<rect x="291" y="154" width="7" height="1" fill="#000"/>
<rect x="298" y="145" width="1" height="17" fill="#000"/>
<rect x="300" y="145" width="2" height="17" fill="#000"/>
<rect x="302" y="147" width="10" height="1" fill="#000"/>
<rect x="311" y="147" width="1" height="9" fill="#000"/>
<rect x="309" y="155" width="3" height="1" fill="#000"/>
<rect x="304" y="153" width="6" height="1" fill="#000"/>
<rect x="309" y="153" width="1" height="8" fill="#000"/>
<rect x="302" y="153" width="3" height="5" fill="#000"/>
<rect x="302" y="157" width="2" height="4" fill="#000"/>
<rect x="302" y="160" width="8" height="1" fill="#000"/>
<rect x="316" y="145" width="175" height="15" fill="#000"/>
<rect x="319" y="147" width="4" height="6" fill="#fff"/>
<rect x="321" y="154" width="1" height="5" fill="#fff"/>
<rect x="325" y="147" width="4" height="6" fill="#fff"/>
<rect x="327" y="154" width="1" height="5" fill="#fff"/>
<rect x="330" y="147" width="4" height="6" fill="#fff"/>
<rect x="332" y="154" width="1" height="5" fill="#fff"/>
<rect x="336" y="147" width="4" height="6" fill="#fff"/>
<rect x="338" y="154" width="1" height="5" fill="#fff"/>
<rect x="342" y="147" width="4" height="6" fill="#fff"/>
<rect x="344" y="154" width="1" height="5" fill="#fff"/>
<rect x="347" y="147" width="4" height="6" fill="#fff"/>
<rect x="349" y="154" width="1" height="5" fill="#fff"/>
<rect x="353" y="147" width="4" height="6" fill="#fff"/>
<rect x="355" y="154" width="1" height="5" fill="#fff"/>
<rect x="359" y="147" width="4" height="6" fill="#fff"/>
<rect x="361" y="154" width="1" height="5" fill="#fff"/>
<rect x="365" y="147" width="4" height="6" fill="#fff"/>
<rect x="367" y="154" width="1" height="5" fill="#fff"/>
<rect x="370" y="147" width="4" height="6" fill="#fff"/>
<rect x="372" y="154" width="1" height="5" fill="#fff"/>
<rect x="376" y="147" width="4" height="6" fill="#fff"/>
<rect x="378" y="154" width="1" height="5" fill="#fff"/>
<rect x="382" y="147" width="4" height="6" fill="#fff"/>
<rect x="384" y="154" width="1" height="5" fill="#fff"/>
<rect x="387" y="147" width="4" height="6" fill="#fff"/>
<rect x="389" y="154" width="1" height="5" fill="#fff"/>
<rect x="393" y="147" width="4" height="6" fill="#fff"/>
<rect x="395" y="154" width="1" height="5" fill="#fff"/>
<rect x="399" y="147" width="4" height="6" fill="#fff"/>
<rect x="401" y="154" width="1" height="5" fill="#fff"/>
<rect x="404" y="147" width="4" height="6" fill="#fff"/>
<rect x="406" y="154" width="1" height="5" fill="#fff"/>
<rect x="410" y="147" width="4" height="6" fill="#fff"/>
<rect x="412" y="154" width="1" height="5" fill="#fff"/>
<rect x="416" y="147" width="4" height="6" fill="#fff"/>
<rect x="418" y="154" width="1" height="5" fill="#fff"/>
<rect x="421" y="147" width="4" height="6" fill="#fff"/>
<rect x="423" y="154" width="1" height="5" fill="#fff"/>
<rect x="427" y="147" width="4" height="6" fill="#fff"/>
<rect x="429" y="154" width="1" height="5" fill="#fff"/>
<rect x="433" y="147" width="4" height="6" fill="#fff"/>
<rect x="435" y="154" width="1" height="5" fill="#fff"/>
<rect x="438" y="147" width="4" height="6" fill="#fff"/>
<rect x="440" y="154" width="1" height="5" fill="#fff"/>
<rect x="444" y="147" width="4" height="6" fill="#fff"/>
<rect x="446" y="154" width="1" height="5" fill="#fff"/>
<rect x="450" y="147" width="4" height="6" fill="#fff"/>
<rect x="452" y="154" width="1" height="5" fill="#fff"/>
<rect x="456" y="147" width="4" height="6" fill="#fff"/>
<rect x="458" y="154" width="1" height="5" fill="#fff"/>
<rect x="461" y="147" width="4" height="6" fill="#fff"/>
<rect x="463" y="154" width="1" height="5" fill="#fff"/>
<rect x="467" y="147" width="4" height="6" fill="#fff"/>
<rect x="469" y="154" width="1" height="5" fill="#fff"/>
<rect x="473" y="147" width="4" height="6" fill="#fff"/>
<rect x="475" y="154" width="1" height="5" fill="#fff"/>
<rect x="478" y="147" width="4" height="6" fill="#fff"/>
<rect x="480" y="154" width="1" height="5" fill="#fff"/>
<rect x="484" y="147" width="4" height="6" fill="#fff"/>
<rect x="486" y="154" width="1" height="5" fill="#fff"/>
<rect x="317" y="147" width="1" height="6" fill="#fff"/>
<rect x="495" y="146" width="10" height="1" fill="#000"/>
<rect x="495" y="146" width="1" height="11" fill="#000"/>
<rect x="495" y="156" width="4" height="1" fill="#000"/>
<rect x="498" y="153" width="1" height="8" fill="#000"/>
<rect x="498" y="153" width="5" height="1" fill="#000"/>
<rect x="502" y="153" width="1" height="4" fill="#000"/>
<rect x="502" y="156" width="3" height="5" fill="#000"/>
<rect x="498" y="160" width="7" height="1" fill="#000"/>
<rect x="505" y="145" width="4" height="17" fill="#000"/>
<rect x="509" y="147" width="6" height="1" fill="#000"/>
<rect x="509" y="154" width="6" height="1" fill="#000"/>
<polygon points="335,171 392,171 392,173 395,173 395,175 397,175 397,232 395,232 395,235 392,235 392,237 336,237 336,235 333,235 333,232 331,232 331,177 334,177 334,173 335,173" fill="#000"/>
<rect x="337" y="171" width="1" height="2" fill="#fff"/>
<rect x="341" y="234" width="1" height="3" fill="#fff"/>
<rect x="331" y="179" width="3" height="1" fill="#fff"/>
<rect x="394" y="177" width="3" height="1" fill="#fff"/>
<rect x="346" y="171" width="1" height="2" fill="#fff"/>
<rect x="350" y="234" width="1" height="3" fill="#fff"/>
<rect x="331" y="188" width="3" height="1" fill="#fff"/>
<rect x="394" y="186" width="3" height="1" fill="#fff"/>
<rect x="349" y="171" width="1" height="2" fill="#fff"/>
<rect x="353" y="234" width="1" height="3" fill="#fff"/>
<rect x="331" y="191" width="3" height="1" fill="#fff"/>
<rect x="394" y="189" width="3" height="1" fill="#fff"/>
<rect x="352" y="171" width="1" height="2" fill="#fff"/>
<rect x="356" y="234" width="1" height="3" fill="#fff"/>
<rect x="331" y="194" width="3" height="1" fill="#fff"/>
<rect x="394" y="192" width="3" height="1" fill="#fff"/>
<rect x="363" y="171" width="1" height="2" fill="#fff"/>
<rect x="367" y="234" width="1" height="3" fill="#fff"/>
<rect x="331" y="205" width="3" height="1" fill="#fff"/>
<rect x="394" y="203" width="3" height="1" fill="#fff"/>
<rect x="366" y="171" width="1" height="2" fill="#fff"/>
<rect x="370" y="234" width="1" height="3" fill="#fff"/>
<rect x="331" y="208" width="3" height="1" fill="#fff"/>
<rect x="394" y="206" width="3" height="1" fill="#fff"/>
<rect x="369" y="171" width="1" height="2" fill="#fff"/>
<rect x="373" y="234" width="1" height="3" fill="#fff"/>
<rect x="331" y="211" width="3" height="1" fill="#fff"/>
<rect x="394" y="209" width="3" height="1" fill="#fff"/>
<rect x="380" y="171" width="1" height="2" fill="#fff"/>
<rect x="384" y="234" width="1" height="3" fill="#fff"/>
<rect x="331" y="222" width="3" height="1" fill="#fff"/>
<rect x="394" y="220" width="3" height="1" fill="#fff"/>
<rect x="383" y="171" width="1" height="2" fill="#fff"/>
<rect x="387" y="234" width="1" height="3" fill="#fff"/>
<rect x="331" y="225" width="3" height="1" fill="#fff"/>
<rect x="394" y="223" width="3" height="1" fill="#fff"/>
<rect x="386" y="171" width="1" height="2" fill="#fff"/>
<rect x="390" y="234" width="1" height="3" fill="#fff"/>
<rect x="331" y="228" width="3" height="1" fill="#fff"/>
<rect x="394" y="226" width="3" height="1" fill="#fff"/>
<circle cx="340.5" cy="180.5" r="2.6" fill="#fff" shape-rendering="auto"/>
<polygon points="156,279 213,279 213,281 216,281 216,283 218,283 218,340 216,340 216,343 213,343 213,345 157,345 157,343 154,343 154,340 152,340 152,285 155,285 155,281 156,281" fill="#000"/>
<rect x="158" y="279" width="1" height="2" fill="#fff"/>
<rect x="162" y="342" width="1" height="3" fill="#fff"/>
<rect x="152" y="287" width="3" height="1" fill="#fff"/>
<rect x="215" y="285" width="3" height="1" fill="#fff"/>
<rect x="167" y="279" width="1" height="2" fill="#fff"/>
<rect x="171" y="342" width="1" height="3" fill="#fff"/>
<rect x="152" y="296" width="3" height="1" fill="#fff"/>
<rect x="215" y="294" width="3" height="1" fill="#fff"/>
<rect x="170" y="279" width="1" height="2" fill="#fff"/>
<rect x="174" y="342" width="1" height="3" fill="#fff"/>
<rect x="152" y="299" width="3" height="1" fill="#fff"/>
<rect x="215" y="297" width="3" height="1" fill="#fff"/>
<rect x="173" y="279" width="1" height="2" fill="#fff"/>
<rect x="177" y="342" width="1" height="3" fill="#fff"/>
<rect x="152" y="302" width="3" height="1" fill="#fff"/>
<rect x="215" y="300" width="3" height="1" fill="#fff"/>
<rect x="184" y="279" width="1" height="2" fill="#fff"/>
<rect x="188" y="342" width="1" height="3" fill="#fff"/>
<rect x="152" y="313" width="3" height="1" fill="#fff"/>
<rect x="215" y="311" width="3" height="1" fill="#fff"/>
<rect x="187" y="279" width="1" height="2" fill="#fff"/>
<rect x="191" y="342" width="1" height="3" fill="#fff"/>
<rect x="152" y="316" width="3" height="1" fill="#fff"/>
<rect x="215" y="314" width="3" height="1" fill="#fff"/>
<rect x="190" y="279" width="1" height="2" fill="#fff"/>
<rect x="194" y="342" width="1" height="3" fill="#fff"/>
<rect x="152" y="319" width="3" height="1" fill="#fff"/>
<rect x="215" y="317" width="3" height="1" fill="#fff"/>
<rect x="201" y="279" width="1" height="2" fill="#fff"/>
<rect x="205" y="342" width="1" height="3" fill="#fff"/>
<rect x="152" y="330" width="3" height="1" fill="#fff"/>
<rect x="215" y="328" width="3" height="1" fill="#fff"/>
<rect x="204" y="279" width="1" height="2" fill="#fff"/>
<rect x="208" y="342" width="1" height="3" fill="#fff"/>
<rect x="152" y="333" width="3" height="1" fill="#fff"/>
<rect x="215" y="331" width="3" height="1" fill="#fff"/>
<rect x="207" y="279" width="1" height="2" fill="#fff"/>
<rect x="211" y="342" width="1" height="3" fill="#fff"/>
<rect x="152" y="336" width="3" height="1" fill="#fff"/>
<rect x="215" y="334" width="3" height="1" fill="#fff"/>
<circle cx="161.5" cy="288.5" r="2.6" fill="#fff" shape-rendering="auto"/>
<path d="M295.5 203 V179.5 Q295.5 177.5 297.5 177.5 H312.5 Q314.5 177.5 314.5 179.5 V203 Z" fill="url(#dots)" stroke="#000" stroke-width="1"/>
<rect x="294" y="203" width="22" height="2" fill="#000"/>
<rect x="297" y="205" width="1" height="6" fill="#000"/>
<rect x="311" y="205" width="1" height="6" fill="#000"/>
<path d="M799.5 418.5 H820.5 L822.5 421.5 L823.5 423 V426 L821.5 428 V436 L823.5 437.5 V440.5 L821.5 442 V450 L823.5 451.5 V455.5 L821.5 458.5 H798.5 L796.5 455.5 V451.5 L798.5 450 V442 L796.5 440.5 V437.5 L798.5 436 V428 L796.5 426 V423 L797.5 421.5 Z" fill="url(#dots)" stroke="#000" stroke-width="1"/>
<polygon points="309,282 396,282 400,286 400,375 309,375" fill="#000"/>
<circle cx="314.2" cy="287.5" r="1.75" fill="#fff" shape-rendering="auto"/>
<circle cx="319.9" cy="287.5" r="1.75" fill="#fff" shape-rendering="auto"/>
<circle cx="325.7" cy="287.5" r="1.75" fill="#fff" shape-rendering="auto"/>
<circle cx="331.4" cy="287.5" r="1.75" fill="#fff" shape-rendering="auto"/>
<circle cx="337.2" cy="287.5" r="1.75" fill="#fff" shape-rendering="auto"/>
<circle cx="342.9" cy="287.5" r="1.75" fill="#fff" shape-rendering="auto"/>
<circle cx="348.7" cy="287.5" r="1.75" fill="#fff" shape-rendering="auto"/>
<circle cx="354.4" cy="287.5" r="1.75" fill="#fff" shape-rendering="auto"/>
<circle cx="360.2" cy="287.5" r="1.75" fill="#fff" shape-rendering="auto"/>
<circle cx="365.9" cy="287.5" r="1.75" fill="#fff" shape-rendering="auto"/>
<circle cx="371.7" cy="287.5" r="1.75" fill="#fff" shape-rendering="auto"/>
<circle cx="377.4" cy="287.5" r="1.75" fill="#fff" shape-rendering="auto"/>
<circle cx="383.2" cy="287.5" r="1.75" fill="#fff" shape-rendering="auto"/>
<circle cx="388.9" cy="287.5" r="1.75" fill="#fff" shape-rendering="auto"/>
<circle cx="394.7" cy="287.5" r="1.75" fill="#fff" shape-rendering="auto"/>
<circle cx="314.2" cy="293.3" r="1.75" fill="#fff" shape-rendering="auto"/>
<circle cx="319.9" cy="293.3" r="1.75" fill="#fff" shape-rendering="auto"/>
<circle cx="325.7" cy="293.3" r="1.75" fill="#fff" shape-rendering="auto"/>
<circle cx="331.4" cy="293.3" r="1.75" fill="#fff" shape-rendering="auto"/>
<circle cx="337.2" cy="293.3" r="1.75" fill="#fff" shape-rendering="auto"/>
<circle cx="342.9" cy="293.3" r="1.75" fill="#fff" shape-rendering="auto"/>
<circle cx="348.7" cy="293.3" r="1.75" fill="#fff" shape-rendering="auto"/>
<circle cx="354.4" cy="293.3" r="1.75" fill="#fff" shape-rendering="auto"/>
<circle cx="360.2" cy="293.3" r="1.75" fill="#fff" shape-rendering="auto"/>
<circle cx="365.9" cy="293.3" r="1.75" fill="#fff" shape-rendering="auto"/>
<circle cx="371.7" cy="293.3" r="1.75" fill="#fff" shape-rendering="auto"/>
<circle cx="377.4" cy="293.3" r="1.75" fill="#fff" shape-rendering="auto"/>
<circle cx="383.2" cy="293.3" r="1.75" fill="#fff" shape-rendering="auto"/>
<circle cx="388.9" cy="293.3" r="1.75" fill="#fff" shape-rendering="auto"/>
<circle cx="394.7" cy="293.3" r="1.75" fill="#fff" shape-rendering="auto"/>
<circle cx="314.2" cy="299.1" r="1.75" fill="#fff" shape-rendering="auto"/>
<circle cx="319.9" cy="299.1" r="1.75" fill="#fff" shape-rendering="auto"/>
<circle cx="325.7" cy="299.1" r="1.75" fill="#fff" shape-rendering="auto"/>
<circle cx="331.4" cy="299.1" r="1.75" fill="#fff" shape-rendering="auto"/>
<circle cx="337.2" cy="299.1" r="1.75" fill="#fff" shape-rendering="auto"/>
<circle cx="342.9" cy="299.1" r="1.75" fill="#fff" shape-rendering="auto"/>
<circle cx="348.7" cy="299.1" r="1.75" fill="#fff" shape-rendering="auto"/>
<circle cx="354.4" cy="299.1" r="1.75" fill="#fff" shape-rendering="auto"/>
<circle cx="360.2" cy="299.1" r="1.75" fill="#fff" shape-rendering="auto"/>
<circle cx="365.9" cy="299.1" r="1.75" fill="#fff" shape-rendering="auto"/>
<circle cx="371.7" cy="299.1" r="1.75" fill="#fff" shape-rendering="auto"/>
<circle cx="377.4" cy="299.1" r="1.75" fill="#fff" shape-rendering="auto"/>
<circle cx="383.2" cy="299.1" r="1.75" fill="#fff" shape-rendering="auto"/>
<circle cx="388.9" cy="299.1" r="1.75" fill="#fff" shape-rendering="auto"/>
<circle cx="394.7" cy="299.1" r="1.75" fill="#fff" shape-rendering="auto"/>
<circle cx="314.2" cy="304.9" r="1.75" fill="#fff" shape-rendering="auto"/>
<circle cx="319.9" cy="304.9" r="1.75" fill="#fff" shape-rendering="auto"/>
<circle cx="325.7" cy="304.9" r="1.75" fill="#fff" shape-rendering="auto"/>
<circle cx="383.2" cy="304.9" r="1.75" fill="#fff" shape-rendering="auto"/>
<circle cx="388.9" cy="304.9" r="1.75" fill="#fff" shape-rendering="auto"/>
<circle cx="394.7" cy="304.9" r="1.75" fill="#fff" shape-rendering="auto"/>
<circle cx="314.2" cy="310.7" r="1.75" fill="#fff" shape-rendering="auto"/>
<circle cx="319.9" cy="310.7" r="1.75" fill="#fff" shape-rendering="auto"/>
<circle cx="325.7" cy="310.7" r="1.75" fill="#fff" shape-rendering="auto"/>
<circle cx="383.2" cy="310.7" r="1.75" fill="#fff" shape-rendering="auto"/>
<circle cx="388.9" cy="310.7" r="1.75" fill="#fff" shape-rendering="auto"/>
<circle cx="394.7" cy="310.7" r="1.75" fill="#fff" shape-rendering="auto"/>
<circle cx="314.2" cy="316.5" r="1.75" fill="#fff" shape-rendering="auto"/>
<circle cx="319.9" cy="316.5" r="1.75" fill="#fff" shape-rendering="auto"/>
<circle cx="325.7" cy="316.5" r="1.75" fill="#fff" shape-rendering="auto"/>
<circle cx="383.2" cy="316.5" r="1.75" fill="#fff" shape-rendering="auto"/>
<circle cx="388.9" cy="316.5" r="1.75" fill="#fff" shape-rendering="auto"/>
<circle cx="394.7" cy="316.5" r="1.75" fill="#fff" shape-rendering="auto"/>
<circle cx="314.2" cy="322.3" r="1.75" fill="#fff" shape-rendering="auto"/>
<circle cx="319.9" cy="322.3" r="1.75" fill="#fff" shape-rendering="auto"/>
<circle cx="325.7" cy="322.3" r="1.75" fill="#fff" shape-rendering="auto"/>
<circle cx="383.2" cy="322.3" r="1.75" fill="#fff" shape-rendering="auto"/>
<circle cx="388.9" cy="322.3" r="1.75" fill="#fff" shape-rendering="auto"/>
<circle cx="394.7" cy="322.3" r="1.75" fill="#fff" shape-rendering="auto"/>
<circle cx="314.2" cy="328.1" r="1.75" fill="#fff" shape-rendering="auto"/>
<circle cx="319.9" cy="328.1" r="1.75" fill="#fff" shape-rendering="auto"/>
<circle cx="325.7" cy="328.1" r="1.75" fill="#fff" shape-rendering="auto"/>
<circle cx="383.2" cy="328.1" r="1.75" fill="#fff" shape-rendering="auto"/>
<circle cx="388.9" cy="328.1" r="1.75" fill="#fff" shape-rendering="auto"/>
<circle cx="394.7" cy="328.1" r="1.75" fill="#fff" shape-rendering="auto"/>
<circle cx="314.2" cy="334.0" r="1.75" fill="#fff" shape-rendering="auto"/>
<circle cx="319.9" cy="334.0" r="1.75" fill="#fff" shape-rendering="auto"/>
<circle cx="325.7" cy="334.0" r="1.75" fill="#fff" shape-rendering="auto"/>
<circle cx="383.2" cy="334.0" r="1.75" fill="#fff" shape-rendering="auto"/>
<circle cx="388.9" cy="334.0" r="1.75" fill="#fff" shape-rendering="auto"/>
<circle cx="394.7" cy="334.0" r="1.75" fill="#fff" shape-rendering="auto"/>
<circle cx="314.2" cy="339.8" r="1.75" fill="#fff" shape-rendering="auto"/>
<circle cx="319.9" cy="339.8" r="1.75" fill="#fff" shape-rendering="auto"/>
<circle cx="325.7" cy="339.8" r="1.75" fill="#fff" shape-rendering="auto"/>
<circle cx="383.2" cy="339.8" r="1.75" fill="#fff" shape-rendering="auto"/>
<circle cx="388.9" cy="339.8" r="1.75" fill="#fff" shape-rendering="auto"/>
<circle cx="394.7" cy="339.8" r="1.75" fill="#fff" shape-rendering="auto"/>
<circle cx="314.2" cy="345.6" r="1.75" fill="#fff" shape-rendering="auto"/>
<circle cx="319.9" cy="345.6" r="1.75" fill="#fff" shape-rendering="auto"/>
<circle cx="325.7" cy="345.6" r="1.75" fill="#fff" shape-rendering="auto"/>
<circle cx="383.2" cy="345.6" r="1.75" fill="#fff" shape-rendering="auto"/>
<circle cx="388.9" cy="345.6" r="1.75" fill="#fff" shape-rendering="auto"/>
<circle cx="394.7" cy="345.6" r="1.75" fill="#fff" shape-rendering="auto"/>
<circle cx="314.2" cy="351.4" r="1.75" fill="#fff" shape-rendering="auto"/>
<circle cx="319.9" cy="351.4" r="1.75" fill="#fff" shape-rendering="auto"/>
<circle cx="325.7" cy="351.4" r="1.75" fill="#fff" shape-rendering="auto"/>
<circle cx="383.2" cy="351.4" r="1.75" fill="#fff" shape-rendering="auto"/>
<circle cx="388.9" cy="351.4" r="1.75" fill="#fff" shape-rendering="auto"/>
<circle cx="394.7" cy="351.4" r="1.75" fill="#fff" shape-rendering="auto"/>
<circle cx="314.2" cy="357.2" r="1.75" fill="#fff" shape-rendering="auto"/>
<circle cx="319.9" cy="357.2" r="1.75" fill="#fff" shape-rendering="auto"/>
<circle cx="325.7" cy="357.2" r="1.75" fill="#fff" shape-rendering="auto"/>
<circle cx="331.4" cy="357.2" r="1.75" fill="#fff" shape-rendering="auto"/>
<circle cx="337.2" cy="357.2" r="1.75" fill="#fff" shape-rendering="auto"/>
<circle cx="342.9" cy="357.2" r="1.75" fill="#fff" shape-rendering="auto"/>
<circle cx="348.7" cy="357.2" r="1.75" fill="#fff" shape-rendering="auto"/>
<circle cx="354.4" cy="357.2" r="1.75" fill="#fff" shape-rendering="auto"/>
<circle cx="360.2" cy="357.2" r="1.75" fill="#fff" shape-rendering="auto"/>
<circle cx="365.9" cy="357.2" r="1.75" fill="#fff" shape-rendering="auto"/>
<circle cx="371.7" cy="357.2" r="1.75" fill="#fff" shape-rendering="auto"/>
<circle cx="377.4" cy="357.2" r="1.75" fill="#fff" shape-rendering="auto"/>
<circle cx="383.2" cy="357.2" r="1.75" fill="#fff" shape-rendering="auto"/>
<circle cx="388.9" cy="357.2" r="1.75" fill="#fff" shape-rendering="auto"/>
<circle cx="394.7" cy="357.2" r="1.75" fill="#fff" shape-rendering="auto"/>
<circle cx="314.2" cy="363.0" r="1.75" fill="#fff" shape-rendering="auto"/>
<circle cx="319.9" cy="363.0" r="1.75" fill="#fff" shape-rendering="auto"/>
<circle cx="325.7" cy="363.0" r="1.75" fill="#fff" shape-rendering="auto"/>
<circle cx="331.4" cy="363.0" r="1.75" fill="#fff" shape-rendering="auto"/>
<circle cx="337.2" cy="363.0" r="1.75" fill="#fff" shape-rendering="auto"/>
<circle cx="342.9" cy="363.0" r="1.75" fill="#fff" shape-rendering="auto"/>
<circle cx="348.7" cy="363.0" r="1.75" fill="#fff" shape-rendering="auto"/>
<circle cx="354.4" cy="363.0" r="1.75" fill="#fff" shape-rendering="auto"/>
<circle cx="360.2" cy="363.0" r="1.75" fill="#fff" shape-rendering="auto"/>
<circle cx="365.9" cy="363.0" r="1.75" fill="#fff" shape-rendering="auto"/>
<circle cx="371.7" cy="363.0" r="1.75" fill="#fff" shape-rendering="auto"/>
<circle cx="377.4" cy="363.0" r="1.75" fill="#fff" shape-rendering="auto"/>
<circle cx="383.2" cy="363.0" r="1.75" fill="#fff" shape-rendering="auto"/>
<circle cx="388.9" cy="363.0" r="1.75" fill="#fff" shape-rendering="auto"/>
<circle cx="394.7" cy="363.0" r="1.75" fill="#fff" shape-rendering="auto"/>
<circle cx="314.2" cy="368.8" r="1.75" fill="#fff" shape-rendering="auto"/>
<circle cx="319.9" cy="368.8" r="1.75" fill="#fff" shape-rendering="auto"/>
<circle cx="325.7" cy="368.8" r="1.75" fill="#fff" shape-rendering="auto"/>
<circle cx="331.4" cy="368.8" r="1.75" fill="#fff" shape-rendering="auto"/>
<circle cx="337.2" cy="368.8" r="1.75" fill="#fff" shape-rendering="auto"/>
<circle cx="342.9" cy="368.8" r="1.75" fill="#fff" shape-rendering="auto"/>
<circle cx="348.7" cy="368.8" r="1.75" fill="#fff" shape-rendering="auto"/>
<circle cx="354.4" cy="368.8" r="1.75" fill="#fff" shape-rendering="auto"/>
<circle cx="360.2" cy="368.8" r="1.75" fill="#fff" shape-rendering="auto"/>
<circle cx="365.9" cy="368.8" r="1.75" fill="#fff" shape-rendering="auto"/>
<circle cx="371.7" cy="368.8" r="1.75" fill="#fff" shape-rendering="auto"/>
<circle cx="377.4" cy="368.8" r="1.75" fill="#fff" shape-rendering="auto"/>
<circle cx="383.2" cy="368.8" r="1.75" fill="#fff" shape-rendering="auto"/>
<circle cx="388.9" cy="368.8" r="1.75" fill="#fff" shape-rendering="auto"/>
<circle cx="394.7" cy="368.8" r="1.75" fill="#fff" shape-rendering="auto"/>
<rect x="332" y="305" width="45" height="46" fill="#fff"/>
<circle cx="373.3" cy="308.8" r="2.2" fill="#000" shape-rendering="auto"/>
<rect x="338" y="319" width="33" height="19" rx="4.5" ry="4.5" fill="#000" shape-rendering="auto"/>
<rect x="339.2" y="320.2" width="30" height="15.8" rx="3.3" ry="3.3" fill="#fff" shape-rendering="auto"/>
<text transform="translate(342.5,333) scale(0.65,1)" font-size="14" letter-spacing="4.2" fill="#000" stroke="#000" stroke-width="0.2" font-weight="normal" shape-rendering="auto">NPU</text>
<rect x="257.5" y="327.5" width="27" height="48" fill="#fff" stroke="#000" stroke-width="1"/>
<rect x="258.5" y="328.5" width="25" height="46" rx="3" ry="3" fill="#fff" stroke="#000" stroke-width="1" shape-rendering="auto"/>
<polygon points="320,390 418,390 427,399 427,497 320,497" fill="#000" shape-rendering="auto"/>
<circle cx="415.8" cy="401.2" r="4.1" fill="#fff" shape-rendering="auto"/>
<rect x="359" y="437" width="28" height="14" fill="#fff"/>
<text transform="translate(360.8,448.5) scale(0.65,1)" font-size="14" letter-spacing="4.2" fill="#000" stroke="#000" stroke-width="0.2" font-weight="normal" shape-rendering="auto">CPU</text>
<polygon points="510,458 571,458 571,519 514,519 510,515" fill="#000"/>
<polygon points="512,460 569,460 569,517 515,517 512,514" fill="#fff"/>
<rect x="510" y="458" width="9" height="8" fill="#000"/>
<rect x="563" y="458" width="8" height="8" fill="#000"/>
<rect x="563" y="510" width="8" height="9" fill="#000"/>
<polygon points="518,465 563,465 563,511 521,511 518,508" fill="#000"/>
<rect x="538" y="460" width="1" height="5" fill="#000"/>
<rect x="556" y="460" width="1" height="5" fill="#000"/>
<rect x="529" y="463" width="1" height="2" fill="#000"/>
<rect x="512" y="470" width="6" height="1" fill="#000"/>
<rect x="563" y="470" width="6" height="1" fill="#000"/>
<rect x="512" y="499" width="6" height="1" fill="#000"/>
<rect x="563" y="499" width="6" height="1" fill="#000"/>
<rect x="540" y="511" width="1" height="6" fill="#000"/>
<rect x="551" y="514" width="1" height="3" fill="#000"/>
<rect x="513.5" y="512.5" width="4" height="4" fill="#fff" stroke="#000" stroke-width="1"/>
<rect x="590" y="403" width="88" height="41" fill="#000"/>
<rect x="676" y="418" width="2" height="12" fill="#fff"/>
<rect x="614" y="416" width="40" height="15" rx="2" ry="2" fill="#fff" shape-rendering="auto"/>
<text transform="translate(619.6,428) scale(0.65,1)" font-size="14" letter-spacing="4.2" fill="#000" stroke="#000" stroke-width="0.2" font-weight="normal" shape-rendering="auto">BIOS</text>
<rect x="590" y="450" width="126" height="43" fill="#000"/>
<rect x="715" y="465" width="1" height="13" fill="#fff"/>
<rect x="593" y="452" width="4" height="1" fill="#fff"/>
<rect x="600" y="452" width="3" height="1" fill="#fff"/>
<rect x="606" y="452" width="3" height="1" fill="#fff"/>
<rect x="612" y="452" width="3" height="1" fill="#fff"/>
<rect x="618" y="452" width="4" height="1" fill="#fff"/>
<rect x="624" y="452" width="4" height="1" fill="#fff"/>
<rect x="631" y="452" width="3" height="1" fill="#fff"/>
<rect x="637" y="452" width="3" height="1" fill="#fff"/>
<rect x="643" y="452" width="4" height="1" fill="#fff"/>
<rect x="649" y="452" width="4" height="1" fill="#fff"/>
<rect x="656" y="452" width="3" height="1" fill="#fff"/>
<rect x="662" y="452" width="3" height="1" fill="#fff"/>
<rect x="668" y="452" width="3" height="1" fill="#fff"/>
<rect x="674" y="452" width="4" height="1" fill="#fff"/>
<rect x="681" y="452" width="3" height="1" fill="#fff"/>
<rect x="687" y="452" width="3" height="1" fill="#fff"/>
<rect x="693" y="452" width="3" height="1" fill="#fff"/>
<rect x="699" y="452" width="4" height="1" fill="#fff"/>
<rect x="705" y="452" width="4" height="1" fill="#fff"/>
<rect x="712" y="452" width="3" height="1" fill="#fff"/>
<rect x="639" y="465" width="28" height="14" fill="#fff"/>
<text transform="translate(641.9,475) scale(0.65,1)" font-size="14" letter-spacing="4.2" fill="#000" stroke="#000" stroke-width="0.2" font-weight="normal" shape-rendering="auto">KBD</text>
<rect x="62" y="423" width="84" height="25" fill="#000"/>
<rect x="64" y="425" width="3" height="5" fill="#fff"/>
<rect x="64" y="441" width="3" height="5" fill="#fff"/>
<rect x="70" y="425" width="3" height="5" fill="#fff"/>
<rect x="70" y="441" width="3" height="5" fill="#fff"/>
<rect x="76" y="425" width="3" height="5" fill="#fff"/>
<rect x="76" y="441" width="3" height="5" fill="#fff"/>
<rect x="82" y="425" width="3" height="5" fill="#fff"/>
<rect x="82" y="441" width="3" height="5" fill="#fff"/>
<rect x="88" y="425" width="3" height="5" fill="#fff"/>
<rect x="88" y="441" width="3" height="5" fill="#fff"/>
<rect x="94" y="425" width="3" height="5" fill="#fff"/>
<rect x="94" y="441" width="3" height="5" fill="#fff"/>
<rect x="99" y="425" width="3" height="5" fill="#fff"/>
<rect x="99" y="441" width="3" height="5" fill="#fff"/>
<rect x="105" y="425" width="3" height="5" fill="#fff"/>
<rect x="105" y="441" width="3" height="5" fill="#fff"/>
<rect x="111" y="425" width="3" height="5" fill="#fff"/>
<rect x="111" y="441" width="3" height="5" fill="#fff"/>
<rect x="117" y="425" width="3" height="5" fill="#fff"/>
<rect x="117" y="441" width="3" height="5" fill="#fff"/>
<rect x="123" y="425" width="3" height="5" fill="#fff"/>
<rect x="123" y="441" width="3" height="5" fill="#fff"/>
<rect x="129" y="425" width="3" height="5" fill="#fff"/>
<rect x="129" y="441" width="3" height="5" fill="#fff"/>
<rect x="135" y="425" width="3" height="5" fill="#fff"/>
<rect x="135" y="441" width="3" height="5" fill="#fff"/>
<rect x="141" y="425" width="3" height="5" fill="#fff"/>
<rect x="141" y="441" width="3" height="5" fill="#fff"/>
<rect x="67" y="433" width="33" height="5" fill="#fff"/>
<rect x="105" y="433" width="34" height="5" fill="#fff"/>
<polygon points="146,433 143,435.5 146,438" fill="#fff"/>
<rect x="152" y="423" width="84" height="25" fill="#000"/>
<rect x="154" y="425" width="3" height="5" fill="#fff"/>
<rect x="154" y="441" width="3" height="5" fill="#fff"/>
<rect x="160" y="425" width="3" height="5" fill="#fff"/>
<rect x="160" y="441" width="3" height="5" fill="#fff"/>
<rect x="166" y="425" width="3" height="5" fill="#fff"/>
<rect x="166" y="441" width="3" height="5" fill="#fff"/>
<rect x="172" y="425" width="3" height="5" fill="#fff"/>
<rect x="172" y="441" width="3" height="5" fill="#fff"/>
<rect x="178" y="425" width="3" height="5" fill="#fff"/>
<rect x="178" y="441" width="3" height="5" fill="#fff"/>
<rect x="184" y="425" width="3" height="5" fill="#fff"/>
<rect x="184" y="441" width="3" height="5" fill="#fff"/>
<rect x="189" y="425" width="3" height="5" fill="#fff"/>
<rect x="189" y="441" width="3" height="5" fill="#fff"/>
<rect x="195" y="425" width="3" height="5" fill="#fff"/>
<rect x="195" y="441" width="3" height="5" fill="#fff"/>
<rect x="201" y="425" width="3" height="5" fill="#fff"/>
<rect x="201" y="441" width="3" height="5" fill="#fff"/>
<rect x="207" y="425" width="3" height="5" fill="#fff"/>
<rect x="207" y="441" width="3" height="5" fill="#fff"/>
<rect x="213" y="425" width="3" height="5" fill="#fff"/>
<rect x="213" y="441" width="3" height="5" fill="#fff"/>
<rect x="219" y="425" width="3" height="5" fill="#fff"/>
<rect x="219" y="441" width="3" height="5" fill="#fff"/>
<rect x="225" y="425" width="3" height="5" fill="#fff"/>
<rect x="225" y="441" width="3" height="5" fill="#fff"/>
<rect x="231" y="425" width="3" height="5" fill="#fff"/>
<rect x="231" y="441" width="3" height="5" fill="#fff"/>
<rect x="157" y="433" width="33" height="5" fill="#fff"/>
<rect x="195" y="433" width="34" height="5" fill="#fff"/>
<polygon points="236,433 233,435.5 236,438" fill="#fff"/>
<rect x="62" y="449" width="84" height="25" fill="#000"/>
<rect x="64" y="451" width="3" height="5" fill="#fff"/>
<rect x="64" y="467" width="3" height="5" fill="#fff"/>
<rect x="70" y="451" width="3" height="5" fill="#fff"/>
<rect x="70" y="467" width="3" height="5" fill="#fff"/>
<rect x="76" y="451" width="3" height="5" fill="#fff"/>
<rect x="76" y="467" width="3" height="5" fill="#fff"/>
<rect x="82" y="451" width="3" height="5" fill="#fff"/>
<rect x="82" y="467" width="3" height="5" fill="#fff"/>
<rect x="88" y="451" width="3" height="5" fill="#fff"/>
<rect x="88" y="467" width="3" height="5" fill="#fff"/>
<rect x="94" y="451" width="3" height="5" fill="#fff"/>
<rect x="94" y="467" width="3" height="5" fill="#fff"/>
<rect x="99" y="451" width="3" height="5" fill="#fff"/>
<rect x="99" y="467" width="3" height="5" fill="#fff"/>
<rect x="105" y="451" width="3" height="5" fill="#fff"/>
<rect x="105" y="467" width="3" height="5" fill="#fff"/>
<rect x="111" y="451" width="3" height="5" fill="#fff"/>
<rect x="111" y="467" width="3" height="5" fill="#fff"/>
<rect x="117" y="451" width="3" height="5" fill="#fff"/>
<rect x="117" y="467" width="3" height="5" fill="#fff"/>
<rect x="123" y="451" width="3" height="5" fill="#fff"/>
<rect x="123" y="467" width="3" height="5" fill="#fff"/>
<rect x="129" y="451" width="3" height="5" fill="#fff"/>
<rect x="129" y="467" width="3" height="5" fill="#fff"/>
<rect x="135" y="451" width="3" height="5" fill="#fff"/>
<rect x="135" y="467" width="3" height="5" fill="#fff"/>
<rect x="141" y="451" width="3" height="5" fill="#fff"/>
<rect x="141" y="467" width="3" height="5" fill="#fff"/>
<rect x="67" y="459" width="33" height="5" fill="#fff"/>
<rect x="105" y="459" width="34" height="5" fill="#fff"/>
<polygon points="146,459 143,461.5 146,464" fill="#fff"/>
<rect x="152" y="449" width="84" height="25" fill="#000"/>
<rect x="154" y="451" width="3" height="5" fill="#fff"/>
<rect x="154" y="467" width="3" height="5" fill="#fff"/>
<rect x="160" y="451" width="3" height="5" fill="#fff"/>
<rect x="160" y="467" width="3" height="5" fill="#fff"/>
<rect x="166" y="451" width="3" height="5" fill="#fff"/>
<rect x="166" y="467" width="3" height="5" fill="#fff"/>
<rect x="172" y="451" width="3" height="5" fill="#fff"/>
<rect x="172" y="467" width="3" height="5" fill="#fff"/>
<rect x="178" y="451" width="3" height="5" fill="#fff"/>
<rect x="178" y="467" width="3" height="5" fill="#fff"/>
<rect x="184" y="451" width="3" height="5" fill="#fff"/>
<rect x="184" y="467" width="3" height="5" fill="#fff"/>
<rect x="189" y="451" width="3" height="5" fill="#fff"/>
<rect x="189" y="467" width="3" height="5" fill="#fff"/>
<rect x="195" y="451" width="3" height="5" fill="#fff"/>
<rect x="195" y="467" width="3" height="5" fill="#fff"/>
<rect x="201" y="451" width="3" height="5" fill="#fff"/>
<rect x="201" y="467" width="3" height="5" fill="#fff"/>
<rect x="207" y="451" width="3" height="5" fill="#fff"/>
<rect x="207" y="467" width="3" height="5" fill="#fff"/>
<rect x="213" y="451" width="3" height="5" fill="#fff"/>
<rect x="213" y="467" width="3" height="5" fill="#fff"/>
<rect x="219" y="451" width="3" height="5" fill="#fff"/>
<rect x="219" y="467" width="3" height="5" fill="#fff"/>
<rect x="225" y="451" width="3" height="5" fill="#fff"/>
<rect x="225" y="467" width="3" height="5" fill="#fff"/>
<rect x="231" y="451" width="3" height="5" fill="#fff"/>
<rect x="231" y="467" width="3" height="5" fill="#fff"/>
<rect x="157" y="459" width="33" height="5" fill="#fff"/>
<rect x="195" y="459" width="34" height="5" fill="#fff"/>
<polygon points="236,459 233,461.5 236,464" fill="#fff"/>
<rect x="62" y="475" width="84" height="25" fill="#000"/>
<rect x="64" y="477" width="3" height="5" fill="#fff"/>
<rect x="64" y="493" width="3" height="5" fill="#fff"/>
<rect x="70" y="477" width="3" height="5" fill="#fff"/>
<rect x="70" y="493" width="3" height="5" fill="#fff"/>
<rect x="76" y="477" width="3" height="5" fill="#fff"/>
<rect x="76" y="493" width="3" height="5" fill="#fff"/>
<rect x="82" y="477" width="3" height="5" fill="#fff"/>
<rect x="82" y="493" width="3" height="5" fill="#fff"/>
<rect x="88" y="477" width="3" height="5" fill="#fff"/>
<rect x="88" y="493" width="3" height="5" fill="#fff"/>
<rect x="94" y="477" width="3" height="5" fill="#fff"/>
<rect x="94" y="493" width="3" height="5" fill="#fff"/>
<rect x="99" y="477" width="3" height="5" fill="#fff"/>
<rect x="99" y="493" width="3" height="5" fill="#fff"/>
<rect x="105" y="477" width="3" height="5" fill="#fff"/>
<rect x="105" y="493" width="3" height="5" fill="#fff"/>
<rect x="111" y="477" width="3" height="5" fill="#fff"/>
<rect x="111" y="493" width="3" height="5" fill="#fff"/>
<rect x="117" y="477" width="3" height="5" fill="#fff"/>
<rect x="117" y="493" width="3" height="5" fill="#fff"/>
<rect x="123" y="477" width="3" height="5" fill="#fff"/>
<rect x="123" y="493" width="3" height="5" fill="#fff"/>
<rect x="129" y="477" width="3" height="5" fill="#fff"/>
<rect x="129" y="493" width="3" height="5" fill="#fff"/>
<rect x="135" y="477" width="3" height="5" fill="#fff"/>
<rect x="135" y="493" width="3" height="5" fill="#fff"/>
<rect x="141" y="477" width="3" height="5" fill="#fff"/>
<rect x="141" y="493" width="3" height="5" fill="#fff"/>
<rect x="67" y="485" width="33" height="5" fill="#fff"/>
<rect x="105" y="485" width="34" height="5" fill="#fff"/>
<polygon points="146,485 143,487.5 146,490" fill="#fff"/>
<rect x="152" y="475" width="84" height="25" fill="#000"/>
<rect x="154" y="477" width="3" height="5" fill="#fff"/>
<rect x="154" y="493" width="3" height="5" fill="#fff"/>
<rect x="160" y="477" width="3" height="5" fill="#fff"/>
<rect x="160" y="493" width="3" height="5" fill="#fff"/>
<rect x="166" y="477" width="3" height="5" fill="#fff"/>
<rect x="166" y="493" width="3" height="5" fill="#fff"/>
<rect x="172" y="477" width="3" height="5" fill="#fff"/>
<rect x="172" y="493" width="3" height="5" fill="#fff"/>
<rect x="178" y="477" width="3" height="5" fill="#fff"/>
<rect x="178" y="493" width="3" height="5" fill="#fff"/>
<rect x="184" y="477" width="3" height="5" fill="#fff"/>
<rect x="184" y="493" width="3" height="5" fill="#fff"/>
<rect x="189" y="477" width="3" height="5" fill="#fff"/>
<rect x="189" y="493" width="3" height="5" fill="#fff"/>
<rect x="195" y="477" width="3" height="5" fill="#fff"/>
<rect x="195" y="493" width="3" height="5" fill="#fff"/>
<rect x="201" y="477" width="3" height="5" fill="#fff"/>
<rect x="201" y="493" width="3" height="5" fill="#fff"/>
<rect x="207" y="477" width="3" height="5" fill="#fff"/>
<rect x="207" y="493" width="3" height="5" fill="#fff"/>
<rect x="213" y="477" width="3" height="5" fill="#fff"/>
<rect x="213" y="493" width="3" height="5" fill="#fff"/>
<rect x="219" y="477" width="3" height="5" fill="#fff"/>
<rect x="219" y="493" width="3" height="5" fill="#fff"/>
<rect x="225" y="477" width="3" height="5" fill="#fff"/>
<rect x="225" y="493" width="3" height="5" fill="#fff"/>
<rect x="231" y="477" width="3" height="5" fill="#fff"/>
<rect x="231" y="493" width="3" height="5" fill="#fff"/>
<rect x="157" y="485" width="33" height="5" fill="#fff"/>
<rect x="195" y="485" width="34" height="5" fill="#fff"/>
<polygon points="236,485 233,487.5 236,490" fill="#fff"/>
<rect x="62" y="501" width="84" height="25" fill="#000"/>
<rect x="64" y="503" width="3" height="5" fill="#fff"/>
<rect x="64" y="519" width="3" height="5" fill="#fff"/>
<rect x="70" y="503" width="3" height="5" fill="#fff"/>
<rect x="70" y="519" width="3" height="5" fill="#fff"/>
<rect x="76" y="503" width="3" height="5" fill="#fff"/>
<rect x="76" y="519" width="3" height="5" fill="#fff"/>
<rect x="82" y="503" width="3" height="5" fill="#fff"/>
<rect x="82" y="519" width="3" height="5" fill="#fff"/>
<rect x="88" y="503" width="3" height="5" fill="#fff"/>
<rect x="88" y="519" width="3" height="5" fill="#fff"/>
<rect x="94" y="503" width="3" height="5" fill="#fff"/>
<rect x="94" y="519" width="3" height="5" fill="#fff"/>
<rect x="99" y="503" width="3" height="5" fill="#fff"/>
<rect x="99" y="519" width="3" height="5" fill="#fff"/>
<rect x="105" y="503" width="3" height="5" fill="#fff"/>
<rect x="105" y="519" width="3" height="5" fill="#fff"/>
<rect x="111" y="503" width="3" height="5" fill="#fff"/>
<rect x="111" y="519" width="3" height="5" fill="#fff"/>
<rect x="117" y="503" width="3" height="5" fill="#fff"/>
<rect x="117" y="519" width="3" height="5" fill="#fff"/>
<rect x="123" y="503" width="3" height="5" fill="#fff"/>
<rect x="123" y="519" width="3" height="5" fill="#fff"/>
<rect x="129" y="503" width="3" height="5" fill="#fff"/>
<rect x="129" y="519" width="3" height="5" fill="#fff"/>
<rect x="135" y="503" width="3" height="5" fill="#fff"/>
<rect x="135" y="519" width="3" height="5" fill="#fff"/>
<rect x="141" y="503" width="3" height="5" fill="#fff"/>
<rect x="141" y="519" width="3" height="5" fill="#fff"/>
<rect x="67" y="511" width="33" height="5" fill="#fff"/>
<rect x="105" y="511" width="34" height="5" fill="#fff"/>
<polygon points="146,511 143,513.5 146,516" fill="#fff"/>
<rect x="152" y="501" width="84" height="25" fill="#000"/>
<rect x="154" y="503" width="3" height="5" fill="#fff"/>
<rect x="154" y="519" width="3" height="5" fill="#fff"/>
<rect x="160" y="503" width="3" height="5" fill="#fff"/>
<rect x="160" y="519" width="3" height="5" fill="#fff"/>
<rect x="166" y="503" width="3" height="5" fill="#fff"/>
<rect x="166" y="519" width="3" height="5" fill="#fff"/>
<rect x="172" y="503" width="3" height="5" fill="#fff"/>
<rect x="172" y="519" width="3" height="5" fill="#fff"/>
<rect x="178" y="503" width="3" height="5" fill="#fff"/>
<rect x="178" y="519" width="3" height="5" fill="#fff"/>
<rect x="184" y="503" width="3" height="5" fill="#fff"/>
<rect x="184" y="519" width="3" height="5" fill="#fff"/>
<rect x="189" y="503" width="3" height="5" fill="#fff"/>
<rect x="189" y="519" width="3" height="5" fill="#fff"/>
<rect x="195" y="503" width="3" height="5" fill="#fff"/>
<rect x="195" y="519" width="3" height="5" fill="#fff"/>
<rect x="201" y="503" width="3" height="5" fill="#fff"/>
<rect x="201" y="519" width="3" height="5" fill="#fff"/>
<rect x="207" y="503" width="3" height="5" fill="#fff"/>
<rect x="207" y="519" width="3" height="5" fill="#fff"/>
<rect x="213" y="503" width="3" height="5" fill="#fff"/>
<rect x="213" y="519" width="3" height="5" fill="#fff"/>
<rect x="219" y="503" width="3" height="5" fill="#fff"/>
<rect x="219" y="519" width="3" height="5" fill="#fff"/>
<rect x="225" y="503" width="3" height="5" fill="#fff"/>
<rect x="225" y="519" width="3" height="5" fill="#fff"/>
<rect x="231" y="503" width="3" height="5" fill="#fff"/>
<rect x="231" y="519" width="3" height="5" fill="#fff"/>
<rect x="157" y="511" width="33" height="5" fill="#fff"/>
<rect x="195" y="511" width="34" height="5" fill="#fff"/>
<polygon points="236,511 233,513.5 236,516" fill="#fff"/>
<rect x="152" y="395" width="84" height="24" fill="#000"/>
<rect x="154" y="397" width="3" height="5" fill="#fff"/>
<rect x="154" y="412" width="3" height="5" fill="#fff"/>
<rect x="160" y="397" width="3" height="5" fill="#fff"/>
<rect x="160" y="412" width="3" height="5" fill="#fff"/>
<rect x="166" y="397" width="3" height="5" fill="#fff"/>
<rect x="166" y="412" width="3" height="5" fill="#fff"/>
<rect x="172" y="397" width="3" height="5" fill="#fff"/>
<rect x="172" y="412" width="3" height="5" fill="#fff"/>
<rect x="178" y="397" width="3" height="5" fill="#fff"/>
<rect x="178" y="412" width="3" height="5" fill="#fff"/>
<rect x="184" y="397" width="3" height="5" fill="#fff"/>
<rect x="184" y="412" width="3" height="5" fill="#fff"/>
<rect x="189" y="397" width="3" height="5" fill="#fff"/>
<rect x="189" y="412" width="3" height="5" fill="#fff"/>
<rect x="195" y="397" width="3" height="5" fill="#fff"/>
<rect x="195" y="412" width="3" height="5" fill="#fff"/>
<rect x="201" y="397" width="3" height="5" fill="#fff"/>
<rect x="201" y="412" width="3" height="5" fill="#fff"/>
<rect x="207" y="397" width="3" height="5" fill="#fff"/>
<rect x="207" y="412" width="3" height="5" fill="#fff"/>
<rect x="213" y="397" width="3" height="5" fill="#fff"/>
<rect x="213" y="412" width="3" height="5" fill="#fff"/>
<rect x="219" y="397" width="3" height="5" fill="#fff"/>
<rect x="219" y="412" width="3" height="5" fill="#fff"/>
<rect x="225" y="397" width="3" height="5" fill="#fff"/>
<rect x="225" y="412" width="3" height="5" fill="#fff"/>
<rect x="231" y="397" width="3" height="5" fill="#fff"/>
<rect x="231" y="412" width="3" height="5" fill="#fff"/>
<rect x="157" y="404" width="33" height="5" fill="#fff"/>
<rect x="195" y="404" width="34" height="5" fill="#fff"/>
<polygon points="236,404 233,406.5 236,409" fill="#fff"/>
<rect x="177" y="397" width="33" height="20" fill="#000"/>
<rect x="181" y="416" width="3" height="1" fill="#fff"/>
<rect x="187" y="416" width="3" height="1" fill="#fff"/>
<rect x="193" y="416" width="3" height="1" fill="#fff"/>
<rect x="199" y="416" width="3" height="1" fill="#fff"/>
<rect x="205" y="416" width="3" height="1" fill="#fff"/>
<rect x="180" y="400" width="28" height="14" fill="#fff"/>
<text transform="translate(181.6,411) scale(0.65,1)" font-size="14" letter-spacing="4.2" fill="#000" stroke="#000" stroke-width="0.2" font-weight="normal" shape-rendering="auto">TAG</text>
<rect x="123" y="465" width="52" height="19" fill="#000"/>
<rect x="126" y="468" width="47" height="14" fill="#fff"/>
<text transform="translate(127,478.3) scale(0.62,1)" font-size="13" letter-spacing="5.6" fill="#000" stroke="#000" stroke-width="0.2" font-weight="bold" shape-rendering="auto">CACHE</text>
<rect x="626" y="515" width="112" height="24" fill="#000"/>
<rect x="627" y="516" width="110" height="22" fill="#fff"/>
<rect x="626" y="521" width="112" height="1" fill="#000"/>
<rect x="629" y="520" width="7" height="1" fill="#000"/>
<rect x="630" y="518" width="4" height="3" fill="#000"/>
<rect x="628" y="525" width="7" height="3" fill="#000"/>
<rect x="629" y="526" width="1" height="1" fill="#fff"/>
<rect x="631" y="526" width="1" height="1" fill="#fff"/>
<rect x="633" y="526" width="1" height="1" fill="#fff"/>
<rect x="638" y="520" width="7" height="1" fill="#000"/>
<rect x="639" y="518" width="4" height="3" fill="#000"/>
<rect x="637" y="525" width="7" height="3" fill="#000"/>
<rect x="638" y="526" width="1" height="1" fill="#fff"/>
<rect x="640" y="526" width="1" height="1" fill="#fff"/>
<rect x="642" y="526" width="1" height="1" fill="#fff"/>
<rect x="647" y="520" width="7" height="1" fill="#000"/>
<rect x="648" y="518" width="4" height="3" fill="#000"/>
<rect x="646" y="525" width="7" height="3" fill="#000"/>
<rect x="647" y="526" width="1" height="1" fill="#fff"/>
<rect x="649" y="526" width="1" height="1" fill="#fff"/>
<rect x="651" y="526" width="1" height="1" fill="#fff"/>
<rect x="656" y="520" width="7" height="1" fill="#000"/>
<rect x="657" y="518" width="4" height="3" fill="#000"/>
<rect x="656" y="525" width="7" height="3" fill="#000"/>
<rect x="657" y="526" width="1" height="1" fill="#fff"/>
<rect x="659" y="526" width="1" height="1" fill="#fff"/>
<rect x="661" y="526" width="1" height="1" fill="#fff"/>
<rect x="665" y="520" width="7" height="1" fill="#000"/>
<rect x="666" y="518" width="4" height="3" fill="#000"/>
<rect x="665" y="525" width="7" height="3" fill="#000"/>
<rect x="666" y="526" width="1" height="1" fill="#fff"/>
<rect x="668" y="526" width="1" height="1" fill="#fff"/>
<rect x="670" y="526" width="1" height="1" fill="#fff"/>
<rect x="674" y="520" width="7" height="1" fill="#000"/>
<rect x="675" y="518" width="4" height="3" fill="#000"/>
<rect x="674" y="525" width="7" height="3" fill="#000"/>
<rect x="675" y="526" width="1" height="1" fill="#fff"/>
<rect x="677" y="526" width="1" height="1" fill="#fff"/>
<rect x="679" y="526" width="1" height="1" fill="#fff"/>
<rect x="684" y="520" width="7" height="1" fill="#000"/>
<rect x="685" y="518" width="4" height="3" fill="#000"/>
<rect x="683" y="525" width="7" height="3" fill="#000"/>
<rect x="684" y="526" width="1" height="1" fill="#fff"/>
<rect x="686" y="526" width="1" height="1" fill="#fff"/>
<rect x="688" y="526" width="1" height="1" fill="#fff"/>
<rect x="693" y="520" width="7" height="1" fill="#000"/>
<rect x="694" y="518" width="4" height="3" fill="#000"/>
<rect x="692" y="525" width="7" height="3" fill="#000"/>
<rect x="693" y="526" width="1" height="1" fill="#fff"/>
<rect x="695" y="526" width="1" height="1" fill="#fff"/>
<rect x="697" y="526" width="1" height="1" fill="#fff"/>
<rect x="702" y="520" width="7" height="1" fill="#000"/>
<rect x="703" y="518" width="4" height="3" fill="#000"/>
<rect x="701" y="525" width="7" height="3" fill="#000"/>
<rect x="702" y="526" width="1" height="1" fill="#fff"/>
<rect x="704" y="526" width="1" height="1" fill="#fff"/>
<rect x="706" y="526" width="1" height="1" fill="#fff"/>
<rect x="711" y="520" width="7" height="1" fill="#000"/>
<rect x="712" y="518" width="4" height="3" fill="#000"/>
<rect x="711" y="525" width="7" height="3" fill="#000"/>
<rect x="712" y="526" width="1" height="1" fill="#fff"/>
<rect x="714" y="526" width="1" height="1" fill="#fff"/>
<rect x="716" y="526" width="1" height="1" fill="#fff"/>
<rect x="720" y="520" width="7" height="1" fill="#000"/>
<rect x="721" y="518" width="4" height="3" fill="#000"/>
<rect x="720" y="525" width="7" height="3" fill="#000"/>
<rect x="721" y="526" width="1" height="1" fill="#fff"/>
<rect x="723" y="526" width="1" height="1" fill="#fff"/>
<rect x="725" y="526" width="1" height="1" fill="#fff"/>
<rect x="729" y="520" width="7" height="1" fill="#000"/>
<rect x="730" y="518" width="4" height="3" fill="#000"/>
<rect x="729" y="525" width="7" height="3" fill="#000"/>
<rect x="730" y="526" width="1" height="1" fill="#fff"/>
<rect x="732" y="526" width="1" height="1" fill="#fff"/>
<rect x="734" y="526" width="1" height="1" fill="#fff"/>
<rect x="631" y="529" width="8" height="7" fill="#000"/>
<rect x="632" y="530" width="6" height="5" fill="#fff"/>
<rect x="641" y="529" width="8" height="7" fill="#000"/>
<rect x="642" y="530" width="6" height="5" fill="#fff"/>
<rect x="650" y="529" width="8" height="7" fill="#000"/>
<rect x="651" y="530" width="6" height="5" fill="#fff"/>
<rect x="660" y="529" width="8" height="7" fill="#000"/>
<rect x="661" y="530" width="6" height="5" fill="#fff"/>
<rect x="669" y="529" width="8" height="7" fill="#000"/>
<rect x="670" y="530" width="6" height="5" fill="#fff"/>
<rect x="678" y="529" width="8" height="7" fill="#000"/>
<rect x="679" y="530" width="6" height="5" fill="#fff"/>
<rect x="688" y="529" width="8" height="7" fill="#000"/>
<rect x="689" y="530" width="6" height="5" fill="#fff"/>
<rect x="697" y="529" width="8" height="7" fill="#000"/>
<rect x="698" y="530" width="6" height="5" fill="#fff"/>
<rect x="707" y="529" width="8" height="7" fill="#000"/>
<rect x="708" y="530" width="6" height="5" fill="#fff"/>
<rect x="716" y="529" width="8" height="7" fill="#000"/>
<rect x="717" y="530" width="6" height="5" fill="#fff"/>
<rect x="725" y="529" width="8" height="7" fill="#000"/>
<rect x="726" y="530" width="6" height="5" fill="#fff"/>
<rect x="626" y="537" width="112" height="2" fill="#000"/>
<rect x="626" y="529" width="2" height="5" fill="#000"/>
<rect x="627" y="532" width="1" height="1" fill="#fff"/>
<rect x="734" y="529" width="4" height="6" fill="#000"/>
<rect x="735" y="531" width="1" height="2" fill="#fff"/>
<rect x="804" y="473" width="29" height="38" fill="#000"/>
<rect x="828" y="469" width="5" height="46" fill="#000"/>
<rect x="831" y="467" width="2" height="50" fill="#000"/>
<rect x="797" y="482" width="8" height="9" fill="#000"/>
<rect x="798" y="483" width="3" height="7" fill="#fff"/>
<rect x="802" y="483" width="2" height="1" fill="#fff"/>
<rect x="802" y="485" width="2" height="1" fill="#fff"/>
<rect x="802" y="487" width="2" height="1" fill="#fff"/>
<rect x="802" y="489" width="2" height="1" fill="#fff"/>
<rect x="797" y="493" width="8" height="9" fill="#000"/>
<rect x="798" y="494" width="3" height="7" fill="#fff"/>
<rect x="802" y="494" width="2" height="1" fill="#fff"/>
<rect x="802" y="496" width="2" height="1" fill="#fff"/>
<rect x="802" y="498" width="2" height="1" fill="#fff"/>
<rect x="802" y="500" width="2" height="1" fill="#fff"/>
<rect x="64" y="49" width="7" height="14" fill="#000"/>
<rect x="65" y="50" width="1" height="12" fill="#fff"/>
<rect x="65" y="50" width="5" height="1" fill="#fff"/>
<rect x="65" y="56" width="5" height="1" fill="#fff"/>
<rect x="65" y="61" width="5" height="1" fill="#fff"/>
<rect x="91" y="49" width="7" height="14" fill="#000"/>
<rect x="92" y="50" width="1" height="12" fill="#fff"/>
<rect x="92" y="50" width="5" height="1" fill="#fff"/>
<rect x="92" y="56" width="5" height="1" fill="#fff"/>
<rect x="92" y="61" width="5" height="1" fill="#fff"/>
<rect x="78" y="49" width="7" height="14" fill="#000"/>
<rect x="79" y="50" width="5" height="1" fill="#fff"/>
<rect x="79" y="56" width="5" height="1" fill="#fff"/>
<rect x="79" y="61" width="5" height="1" fill="#fff"/>
<rect x="105" y="37" width="6" height="26" fill="#000"/>
<rect x="106" y="38" width="4" height="1" fill="#fff"/>
<rect x="107" y="41" width="2" height="2" fill="#fff"/>
<rect x="106" y="44" width="4" height="2" fill="#fff"/>
<rect x="106" y="50" width="4" height="1" fill="#fff"/>
<rect x="106" y="56" width="4" height="1" fill="#fff"/>
<rect x="117" y="32" width="7" height="31" fill="#000"/>
<rect x="118" y="33" width="5" height="1" fill="#fff"/>
<rect x="122" y="33" width="1" height="29" fill="#fff"/>
<rect x="119" y="35" width="2" height="2" fill="#fff"/>
<rect x="118" y="38" width="5" height="2" fill="#fff"/>
<rect x="118" y="44" width="4" height="2" fill="#fff"/>
<rect x="118" y="50" width="4" height="1" fill="#fff"/>
<rect x="118" y="56" width="4" height="1" fill="#fff"/>
<rect x="59" y="342" width="14" height="7" fill="#000"/>
<rect x="60" y="343" width="1" height="5" fill="#fff"/>
<rect x="65" y="343" width="2" height="5" fill="#fff"/>
<rect x="71" y="343" width="1" height="5" fill="#fff"/>
<rect x="92" y="376" width="14" height="13" fill="#000"/>
<rect x="93" y="377" width="1" height="11" fill="#fff"/>
<rect x="98" y="377" width="2" height="11" fill="#fff"/>
<rect x="104" y="377" width="1" height="11" fill="#fff"/>
<rect x="93" y="382" width="12" height="1" fill="#fff"/>
<rect x="92" y="382" width="14" height="1" fill="#000"/>
<rect x="105" y="376" width="7" height="7" fill="#000"/>
<rect x="106" y="377" width="5" height="5" fill="#fff"/>
<rect x="108" y="378" width="2" height="3" fill="#000"/>
<rect x="109" y="379" width="1" height="1" fill="#fff"/>
<rect x="251" y="418" width="19" height="7" fill="#000"/>
<rect x="252" y="423" width="12" height="1" fill="#fff"/>
<rect x="257" y="419" width="1" height="5" fill="#fff"/>
<rect x="263" y="419" width="6" height="5" fill="#fff"/>
<rect x="264" y="420" width="4" height="3" fill="#000"/>
<rect x="265" y="421" width="2" height="1" fill="#fff"/>
<rect x="436" y="456" width="7" height="19" fill="#000"/>
<rect x="437" y="457" width="5" height="7" fill="#fff"/>
<rect x="438" y="458" width="4" height="4" fill="#000"/>
<rect x="439" y="459" width="2" height="2" fill="#fff"/>
<rect x="437" y="457" width="1" height="17" fill="#fff"/>
<rect x="437" y="469" width="5" height="1" fill="#fff"/>
<rect x="436" y="482" width="7" height="13" fill="#000"/>
<rect x="437" y="483" width="1" height="11" fill="#fff"/>
<rect x="437" y="483" width="5" height="1" fill="#fff"/>
<rect x="437" y="488" width="5" height="1" fill="#fff"/>
<rect x="407" y="500" width="19" height="7" fill="#000"/>
<rect x="408" y="501" width="6" height="5" fill="#fff"/>
<rect x="409" y="502" width="4" height="3" fill="#000"/>
<rect x="410" y="503" width="2" height="1" fill="#fff"/>
<rect x="408" y="501" width="17" height="1" fill="#fff"/>
<rect x="415" y="502" width="1" height="4" fill="#fff"/>
<rect x="420" y="502" width="1" height="4" fill="#fff"/>
<rect x="688" y="438" width="26" height="7" fill="#000"/>
<rect x="689" y="443" width="18" height="1" fill="#fff"/>
<rect x="694" y="439" width="1" height="5" fill="#fff"/>
<rect x="700" y="439" width="1" height="5" fill="#fff"/>
<rect x="706" y="439" width="1" height="5" fill="#fff"/>
<rect x="707" y="439" width="6" height="5" fill="#fff"/>
<rect x="708" y="440" width="4" height="3" fill="#000"/>
<rect x="709" y="441" width="2" height="1" fill="#fff"/>
<rect x="771" y="471" width="20" height="7" fill="#000"/>
<rect x="772" y="472" width="6" height="5" fill="#fff"/>
<rect x="773" y="473" width="4" height="3" fill="#000"/>
<rect x="774" y="474" width="2" height="1" fill="#fff"/>
<rect x="778" y="472" width="12" height="1" fill="#fff"/>
<rect x="779" y="473" width="1" height="4" fill="#fff"/>
<rect x="784" y="473" width="1" height="4" fill="#fff"/>
<rect x="789" y="473" width="1" height="4" fill="#fff"/>
<rect x="633" y="501" width="14" height="7" fill="#000"/>
<rect x="634" y="502" width="1" height="5" fill="#fff"/>
<rect x="639" y="502" width="2" height="5" fill="#fff"/>
<rect x="645" y="502" width="1" height="5" fill="#fff"/>
<polygon points="95,22.5 104.8,35.5 108,35.5 100,20.5" fill="#000" stroke="#000" stroke-width="0.3" stroke-linejoin="round" shape-rendering="auto"/>
<rect x="65" y="5" width="35" height="19" rx="3.5" ry="3.5" fill="#000" shape-rendering="auto"/>
<rect x="67" y="8" width="30" height="14" rx="2.3" ry="2.3" fill="#fff" shape-rendering="auto"/>
<polygon points="94.732,20.5 98.132,19.14 101.238,27.38" fill="#fff" shape-rendering="auto"/>
<text transform="translate(68.5,18) scale(0.65,1)" font-size="14" letter-spacing="4.2" fill="#000" stroke="#000" stroke-width="0.2" font-weight="normal" shape-rendering="auto">J21</text>
<polygon points="70.5,42.5 79.5,49.5 83,49 74.5,39.5" fill="#000" stroke="#000" stroke-width="0.3" stroke-linejoin="round" shape-rendering="auto"/>
<rect x="41" y="24" width="34" height="19" rx="3.5" ry="3.5" fill="#000" shape-rendering="auto"/>
<rect x="42.5" y="25.5" width="30.5" height="15.0" rx="2.3" ry="2.3" fill="#fff" shape-rendering="auto"/>
<polygon points="70.09,41.03 72.81,38.99 76.175,44.465" fill="#fff" shape-rendering="auto"/>
<text transform="translate(43.5,37) scale(0.65,1)" font-size="14" letter-spacing="4.2" fill="#000" stroke="#000" stroke-width="0.2" font-weight="normal" shape-rendering="auto">SW2</text>
<polygon points="84.5,70.5 94,63 97.5,64 89,73.5" fill="#000" stroke="#000" stroke-width="0.3" stroke-linejoin="round" shape-rendering="auto"/>
<rect x="49" y="70" width="40" height="19" rx="3.5" ry="3.5" fill="#000" shape-rendering="auto"/>
<rect x="51" y="72" width="36" height="14.5" rx="2.3" ry="2.3" fill="#fff" shape-rendering="auto"/>
<polygon points="84.14,72 87.2,74.04 90.53,68.43" fill="#fff" shape-rendering="auto"/>
<text transform="translate(54.2,83) scale(0.65,1)" font-size="14" letter-spacing="4.2" fill="#000" stroke="#000" stroke-width="0.2" font-weight="normal" shape-rendering="auto">SW1</text>
<polygon points="139.5,47 128,48.8 124,48.8 124,51.8 128,51.8 139.5,53" fill="#000" stroke="#000" stroke-width="0.3" stroke-linejoin="round" shape-rendering="auto"/>
<rect x="139" y="41" width="36" height="19" rx="3.5" ry="3.5" fill="#000" shape-rendering="auto"/>
<rect x="141" y="43" width="31.5" height="14.5" rx="2.3" ry="2.3" fill="#fff" shape-rendering="auto"/>
<polygon points="141.12,47.924 141.12,52.004 133.83,50.126" fill="#fff" shape-rendering="auto"/>
<text transform="translate(145.4,54) scale(0.65,1)" font-size="14" letter-spacing="4.2" fill="#000" stroke="#000" stroke-width="0.2" font-weight="normal" shape-rendering="auto">J22</text>
<polygon points="73,331.5 66,340 69.8,341.5 76.5,335" fill="#000" stroke="#000" stroke-width="0.3" stroke-linejoin="round" shape-rendering="auto"/>
<rect x="73" y="316" width="40" height="19" rx="3.5" ry="3.5" fill="#000" shape-rendering="auto"/>
<rect x="75" y="319" width="36" height="14" rx="2.3" ry="2.3" fill="#fff" shape-rendering="auto"/>
<polygon points="74.382,331.16 76.762,333.54 71.873,336.4" fill="#fff" shape-rendering="auto"/>
<text transform="translate(77,330) scale(0.65,1)" font-size="14" letter-spacing="4.2" fill="#000" stroke="#000" stroke-width="0.2" font-weight="normal" shape-rendering="auto">JP12</text>
<polygon points="109,364 102,374.5 105.5,376 113,368" fill="#000" stroke="#000" stroke-width="0.3" stroke-linejoin="round" shape-rendering="auto"/>
<rect x="109" y="350" width="34" height="18" rx="3.5" ry="3.5" fill="#000" shape-rendering="auto"/>
<rect x="111" y="352.5" width="30" height="13.5" rx="2.3" ry="2.3" fill="#fff" shape-rendering="auto"/>
<polygon points="110.51,363.53 113.23,366.25 107.955,369.885" fill="#fff" shape-rendering="auto"/>
<text transform="translate(113.8,363) scale(0.65,1)" font-size="14" letter-spacing="4.2" fill="#000" stroke="#000" stroke-width="0.2" font-weight="normal" shape-rendering="auto">JP9</text>
<polygon points="122.5,379.5 112,383.5 106.5,384.5 106.5,386.5 112,386.5 122.5,385.5" fill="#000" stroke="#000" stroke-width="0.3" stroke-linejoin="round" shape-rendering="auto"/>
<rect x="122" y="374" width="42" height="19" rx="3.5" ry="3.5" fill="#000" shape-rendering="auto"/>
<rect x="124" y="376" width="38" height="15" rx="2.3" ry="2.3" fill="#fff" shape-rendering="auto"/>
<polygon points="124.09,380.13 124.09,384.21 116.935,383.655" fill="#fff" shape-rendering="auto"/>
<text transform="translate(126.7,387.5) scale(0.65,1)" font-size="14" letter-spacing="4.2" fill="#000" stroke="#000" stroke-width="0.2" font-weight="normal" shape-rendering="auto">JP10</text>
<polygon points="267,406 261,415 264.5,416.5 271,410" fill="#000" stroke="#000" stroke-width="0.3" stroke-linejoin="round" shape-rendering="auto"/>
<rect x="267" y="391" width="35" height="19" rx="3.5" ry="3.5" fill="#000" shape-rendering="auto"/>
<rect x="270" y="394" width="30" height="14" rx="2.3" ry="2.3" fill="#fff" shape-rendering="auto"/>
<polygon points="268.39,405.71 271.11,408.43 266.375,411.255" fill="#fff" shape-rendering="auto"/>
<text transform="translate(273,405) scale(0.65,1)" font-size="14" letter-spacing="4.2" fill="#000" stroke="#000" stroke-width="0.2" font-weight="normal" shape-rendering="auto">JP7</text>
<polygon points="450,457 444.2,464.8 447.5,466.5 454.5,460.5" fill="#000" stroke="#000" stroke-width="0.3" stroke-linejoin="round" shape-rendering="auto"/>
<rect x="450" y="442" width="35" height="18" rx="3.5" ry="3.5" fill="#000" shape-rendering="auto"/>
<rect x="453" y="444" width="30" height="14" rx="2.3" ry="2.3" fill="#fff" shape-rendering="auto"/>
<polygon points="451.488,456.732 454.548,459.112 449.562,461.648" fill="#fff" shape-rendering="auto"/>
<text transform="translate(455,455) scale(0.65,1)" font-size="14" letter-spacing="4.2" fill="#000" stroke="#000" stroke-width="0.2" font-weight="normal" shape-rendering="auto">JP3</text>
<polygon points="450,480 444.2,487.8 447.5,489.5 454.5,483.5" fill="#000" stroke="#000" stroke-width="0.3" stroke-linejoin="round" shape-rendering="auto"/>
<rect x="450" y="464" width="35" height="19" rx="3.5" ry="3.5" fill="#000" shape-rendering="auto"/>
<rect x="453" y="466.5" width="30" height="14.5" rx="2.3" ry="2.3" fill="#fff" shape-rendering="auto"/>
<polygon points="451.488,479.732 454.548,482.112 449.562,484.648" fill="#fff" shape-rendering="auto"/>
<text transform="translate(455.5,478) scale(0.65,1)" font-size="14" letter-spacing="4.2" fill="#000" stroke="#000" stroke-width="0.2" font-weight="normal" shape-rendering="auto">JP4</text>
<polygon points="405.5,515.5 414,508 417,510 410,519" fill="#000" stroke="#000" stroke-width="0.3" stroke-linejoin="round" shape-rendering="auto"/>
<rect x="375" y="515" width="35" height="19" rx="3.5" ry="3.5" fill="#000" shape-rendering="auto"/>
<rect x="378" y="517" width="30" height="15" rx="2.3" ry="2.3" fill="#fff" shape-rendering="auto"/>
<polygon points="405.29,517.05 408.35,519.43 411.005,513.785" fill="#fff" shape-rendering="auto"/>
<text transform="translate(380,528) scale(0.65,1)" font-size="14" letter-spacing="4.2" fill="#000" stroke="#000" stroke-width="0.2" font-weight="normal" shape-rendering="auto">JP5</text>
<polygon points="708,427 701,435.5 704.5,437 712,430.5" fill="#000" stroke="#000" stroke-width="0.3" stroke-linejoin="round" shape-rendering="auto"/>
<rect x="708" y="411" width="34" height="19" rx="3.5" ry="3.5" fill="#000" shape-rendering="auto"/>
<rect x="710.5" y="413.5" width="29.5" height="14.5" rx="2.3" ry="2.3" fill="#fff" shape-rendering="auto"/>
<polygon points="709.51,426.66 712.23,429.04 706.955,431.9" fill="#fff" shape-rendering="auto"/>
<text transform="translate(713,424.5) scale(0.65,1)" font-size="14" letter-spacing="4.2" fill="#000" stroke="#000" stroke-width="0.2" font-weight="normal" shape-rendering="auto">J11</text>
<polygon points="771,486 780.5,479 783.5,481 776,490" fill="#000" stroke="#000" stroke-width="0.3" stroke-linejoin="round" shape-rendering="auto"/>
<rect x="741" y="486" width="35" height="19" rx="3.5" ry="3.5" fill="#000" shape-rendering="auto"/>
<rect x="743.5" y="489" width="29.5" height="13.5" rx="2.3" ry="2.3" fill="#fff" shape-rendering="auto"/>
<polygon points="770.78,487.6 774.18,490.32 777.07,484.64" fill="#fff" shape-rendering="auto"/>
<text transform="translate(747,499.5) scale(0.65,1)" font-size="14" letter-spacing="4.2" fill="#000" stroke="#000" stroke-width="0.2" font-weight="normal" shape-rendering="auto">JP1</text>
<polygon points="612.5,508.5 629,503 632,505.5 617,512.5" fill="#000" stroke="#000" stroke-width="0.3" stroke-linejoin="round" shape-rendering="auto"/>
<rect x="583" y="508" width="34" height="19" rx="3.5" ry="3.5" fill="#000" shape-rendering="auto"/>
<rect x="585.5" y="510" width="29.5" height="15" rx="2.3" ry="2.3" fill="#fff" shape-rendering="auto"/>
<polygon points="611.33,509.89 614.39,512.61 621.365,507.875" fill="#fff" shape-rendering="auto"/>
<text transform="translate(588.3,521.5) scale(0.65,1)" font-size="14" letter-spacing="4.2" fill="#000" stroke="#000" stroke-width="0.2" font-weight="normal" shape-rendering="auto">JP2</text>
<rect x="143" y="116" width="58" height="18" fill="#000"/>
<rect x="144" y="117" width="55" height="14" fill="#fff"/>
<text transform="translate(146,128.5) scale(0.65,1)" font-size="14" letter-spacing="4" fill="#000" stroke="#000" stroke-width="0.2" font-weight="normal" shape-rendering="auto">BANK 0</text>
<rect x="375" y="116" width="58" height="18" fill="#000"/>
<rect x="376" y="117" width="55" height="14" fill="#fff"/>
<text transform="translate(378,128.5) scale(0.65,1)" font-size="14" letter-spacing="4" fill="#000" stroke="#000" stroke-width="0.2" font-weight="normal" shape-rendering="auto">BANK 1</text>
<text transform="translate(670.7,71) scale(0.68,1)" font-size="12" x="0.0 13.1 25.4 35.6 44.4 53.5" fill="#000" stroke="#000" stroke-width="0.2" shape-rendering="auto">MH0529</text>
</svg>
</body></html>
